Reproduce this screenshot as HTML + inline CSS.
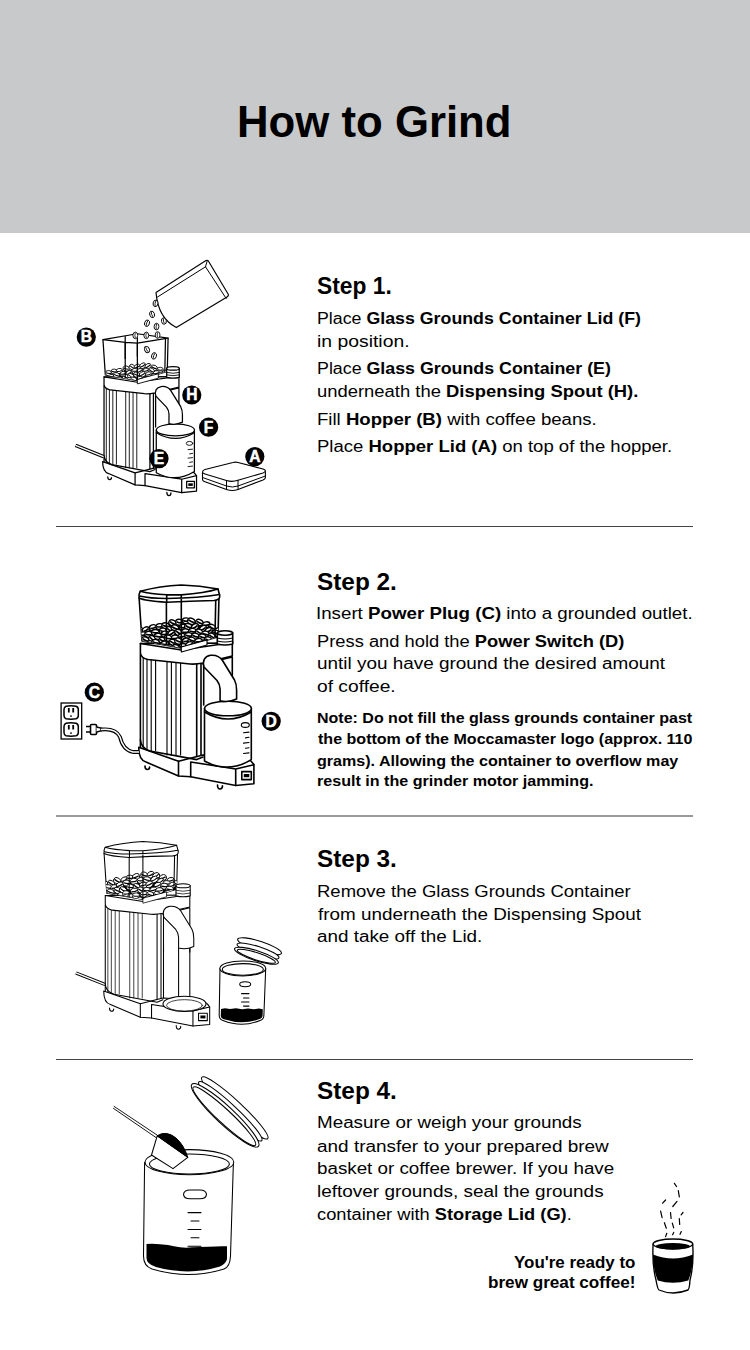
<!DOCTYPE html>
<html><head><meta charset="utf-8"><title>How to Grind</title>
<style>
html,body{margin:0;padding:0;background:#fff;}
body{width:750px;height:1350px;position:relative;overflow:hidden;font-family:"Liberation Sans",sans-serif;color:#000;}
.hdr{position:absolute;left:0;top:0;width:750px;height:233px;background:#c8c9cb;}
.t{position:absolute;white-space:nowrap;line-height:0;transform-origin:0 0;}
.t b{font-weight:bold;}
.rule{position:absolute;left:56px;width:637px;height:1px;background:#444;}
svg.art{position:absolute;left:0;top:0;}
</style></head><body>
<div class="hdr"></div>
<div class="rule" style="top:526px"></div>
<div class="rule" style="top:815px;height:2px;background:#9a9a9a"></div>
<div class="rule" style="top:1059px"></div>
<div class="t" style="left:236.66px;top:121.54px;font-size:44.6px;transform:scaleX(0.9807)"><b>How to Grind</b></div>
<div class="t" style="left:317.24px;top:286.35px;font-size:23.8px;transform:scaleX(0.9579)"><b>Step 1.</b></div>
<div class="t" style="left:317.18px;top:581.75px;font-size:23.8px;transform:scaleX(1.0237)"><b>Step 2.</b></div>
<div class="t" style="left:317.18px;top:859.15px;font-size:23.8px;transform:scaleX(1.0237)"><b>Step 3.</b></div>
<div class="t" style="left:317.18px;top:1091.35px;font-size:23.8px;transform:scaleX(1.0237)"><b>Step 4.</b></div>
<div class="t" style="left:317.37px;top:317.60px;font-size:17.3px;transform:scaleX(1.0288)">Place <b>Glass Grounds Container Lid (F)</b></div>
<div class="t" style="left:317.28px;top:341.00px;font-size:17.3px;transform:scaleX(1.1200)">in position.</div>
<div class="t" style="left:317.37px;top:368.40px;font-size:17.3px;transform:scaleX(1.0304)">Place <b>Glass Grounds Container (E)</b></div>
<div class="t" style="left:317.33px;top:390.60px;font-size:17.3px;transform:scaleX(1.0656)">underneath the <b>Dispensing Spout (H).</b></div>
<div class="t" style="left:317.32px;top:419.00px;font-size:17.3px;transform:scaleX(1.0760)">Fill <b>Hopper (B)</b> with coffee beans.</div>
<div class="t" style="left:317.33px;top:446.00px;font-size:17.3px;transform:scaleX(1.0717)">Place <b>Hopper Lid (A)</b> on top of the hopper.</div>
<div class="t" style="left:316.23px;top:613.00px;font-size:17.3px;transform:scaleX(1.0831)">Insert <b>Power Plug (C)</b> into a grounded outlet.</div>
<div class="t" style="left:317.34px;top:640.60px;font-size:17.3px;transform:scaleX(1.0597)">Press and hold the <b>Power Switch (D)</b></div>
<div class="t" style="left:317.31px;top:663.40px;font-size:17.3px;transform:scaleX(1.0946)">until you have ground the desired amount</div>
<div class="t" style="left:317.29px;top:686.00px;font-size:17.3px;transform:scaleX(1.1118)">of coffee.</div>
<div class="t" style="left:317.35px;top:717.93px;font-size:15.2px;transform:scaleX(1.0535)"><b>Note: Do not fill the glass grounds container past</b></div>
<div class="t" style="left:318.40px;top:739.13px;font-size:15.2px;transform:scaleX(1.0565)"><b>the bottom of the Moccamaster logo (approx. 110</b></div>
<div class="t" style="left:317.34px;top:760.53px;font-size:15.2px;transform:scaleX(1.0588)"><b>grams). Allowing the container to overflow may</b></div>
<div class="t" style="left:317.34px;top:780.53px;font-size:15.2px;transform:scaleX(1.0602)"><b>result in the grinder motor jamming.</b></div>
<div class="t" style="left:317.33px;top:891.00px;font-size:17.3px;transform:scaleX(1.0705)">Remove the Glass Grounds Container</div>
<div class="t" style="left:318.40px;top:913.60px;font-size:17.3px;transform:scaleX(1.0919)">from underneath the Dispensing Spout</div>
<div class="t" style="left:317.31px;top:936.40px;font-size:17.3px;transform:scaleX(1.0913)">and take off the Lid.</div>
<div class="t" style="left:317.31px;top:1122.40px;font-size:17.3px;transform:scaleX(1.0893)">Measure or weigh your grounds</div>
<div class="t" style="left:317.30px;top:1145.60px;font-size:17.3px;transform:scaleX(1.0966)">and transfer to your prepared brew</div>
<div class="t" style="left:317.31px;top:1168.40px;font-size:17.3px;transform:scaleX(1.0868)">basket or coffee brewer. If you have</div>
<div class="t" style="left:317.30px;top:1191.00px;font-size:17.3px;transform:scaleX(1.0969)">leftover grounds, seal the grounds</div>
<div class="t" style="left:317.34px;top:1214.00px;font-size:17.3px;transform:scaleX(1.0569)">container with <b>Storage Lid (G)</b>.</div>
<div class="t" style="left:513.57px;top:1261.61px;font-size:16.4px;transform:scaleX(1.0336)"><b>You&#x27;re ready to</b></div>
<div class="t" style="left:487.76px;top:1282.11px;font-size:16.4px;transform:scaleX(1.0446)"><b>brew great coffee!</b></div>
<svg class="art" width="750" height="1350" viewBox="0 0 750 1350"><g transform="translate(-10.4 -147.5) scale(0.815)"><path d="M203 664 L232.3 657 L232.3 705 M203.7 664 L203.7 705" fill="none" stroke="#000" stroke-width="1.53" stroke-linejoin="round" stroke-linecap="round"/><path d="M140.4 654 L140.4 749.2 M196.7 663 L196.7 759.6 M201 663 L201 758" fill="none" stroke="#000" stroke-width="1.53" stroke-linejoin="round" stroke-linecap="round"/><path d="M143.2 655 L143.2 750.5" fill="none" stroke="#000" stroke-width="1.07" stroke-linejoin="round" stroke-linecap="round"/><path d="M147.0 655 L147.0 750.5" fill="none" stroke="#000" stroke-width="1.07" stroke-linejoin="round" stroke-linecap="round"/><path d="M151.2 655 L151.2 750.5" fill="none" stroke="#000" stroke-width="1.07" stroke-linejoin="round" stroke-linecap="round"/><path d="M155.6 655 L155.6 750.5" fill="none" stroke="#000" stroke-width="1.07" stroke-linejoin="round" stroke-linecap="round"/><path d="M167.0 659 L167.0 755" fill="none" stroke="#000" stroke-width="1.07" stroke-linejoin="round" stroke-linecap="round"/><path d="M171.4 659 L171.4 755" fill="none" stroke="#000" stroke-width="1.07" stroke-linejoin="round" stroke-linecap="round"/><path d="M176.0 659 L176.0 755" fill="none" stroke="#000" stroke-width="1.07" stroke-linejoin="round" stroke-linecap="round"/><path d="M180.6 659 L180.6 755" fill="none" stroke="#000" stroke-width="1.07" stroke-linejoin="round" stroke-linecap="round"/><path d="M138.7 747.3 Q138.7 760 146 762 L178.5 776 L190.7 776.8 L235.7 785.5 L253.9 783.7 L253.9 764.7 Q250 758 240 757 L203 755 L178.5 761.2 Z" fill="#fff" fill="none" stroke="#000" stroke-width="1.53" stroke-linejoin="round" stroke-linecap="round"/><path d="M178.5 761.2 L178.5 776 M190.7 762 L190.7 776.8 M190.7 762 L235.7 769 L253.9 764.7 M235.7 769 L235.7 785.5" fill="none" stroke="#000" stroke-width="1.53" stroke-linejoin="round" stroke-linecap="round"/><path d="M140.4 740 Q141 748 150 751 L196.7 759.6 L203 757" fill="none" stroke="#000" stroke-width="1.53" stroke-linejoin="round" stroke-linecap="round"/><rect x="241.8" y="771.6" width="9.5" height="8" fill="#fff" fill="none" stroke="#000" stroke-width="1.53" stroke-linejoin="round" stroke-linecap="round"/><rect x="243.8" y="774" width="5.5" height="3.2" fill="#000"/><path d="M145 766 Q145 769.5 147.3 769.5 Q149.6 769.5 149.6 767 M217.5 785 Q217.5 789 220 789 Q222.5 789 222.5 785.8" fill="#fff" fill="none" stroke="#000" stroke-width="1.53" stroke-linejoin="round" stroke-linecap="round"/><path d="M204.5 708.5 L204.5 761 Q228 774 251.3 759.6 L251.3 708.5" fill="#fff" fill="none" stroke="#000" stroke-width="1.53" stroke-linejoin="round" stroke-linecap="round"/><ellipse cx="228" cy="708.5" rx="23.4" ry="7.3" fill="#fff" fill="none" stroke="#000" stroke-width="1.53" stroke-linejoin="round" stroke-linecap="round"/><path d="M204.5 712 Q228 726 251.3 712" fill="none" stroke="#000" stroke-width="1.53" stroke-linejoin="round" stroke-linecap="round"/><ellipse cx="245.3" cy="725" rx="4" ry="2.4" fill="none" fill="none" stroke="#000" stroke-width="1.07" stroke-linejoin="round" stroke-linecap="round"/><path d="M243.5 732.7 L249 732.1" fill="none" stroke="#000" stroke-width="1.07" stroke-linejoin="round" stroke-linecap="round"/><path d="M245.5 737.9 L249 737.3" fill="none" stroke="#000" stroke-width="1.07" stroke-linejoin="round" stroke-linecap="round"/><path d="M243.5 743.1 L249 742.5" fill="none" stroke="#000" stroke-width="1.07" stroke-linejoin="round" stroke-linecap="round"/><path d="M245.5 748.3 L249 747.7" fill="none" stroke="#000" stroke-width="1.07" stroke-linejoin="round" stroke-linecap="round"/><path d="M243.5 753.5 L249 752.9" fill="none" stroke="#000" stroke-width="1.07" stroke-linejoin="round" stroke-linecap="round"/><path d="M140.4 643.5 L140.4 653 Q141 658 148 659.5 L190 664 Q196 664.5 203 663 L232.3 656 L232.3 643 Z" fill="#fff" fill="none" stroke="#000" stroke-width="1.53" stroke-linejoin="round" stroke-linecap="round"/><path d="M140.4 643.5 L181.3 650 L232.7 642.5" fill="none" stroke="#000" stroke-width="1.53" stroke-linejoin="round" stroke-linecap="round"/><path d="M204 667 Q201.5 657 210.5 655.3 Q218.5 654.5 222.5 660.5 L234.5 680 Q236.6 684 236.6 690 L236.6 699 Q228 703 220.1 700.7 L220.1 689 Q220.1 684.5 217 680.5 Z" fill="#fff" fill="none" stroke="#000" stroke-width="1.53" stroke-linejoin="round" stroke-linecap="round"/><clipPath id="hc11"><path d="M139.1 597.8 L142 641 L181.3 648 L218 636.7 L219 596 Z"/></clipPath><path d="M139.1 597.8 L142 641 L181.3 648 L218 636.7 L219 596" fill="#fff" fill="none" stroke="#000" stroke-width="1.53" stroke-linejoin="round" stroke-linecap="round"/><g clip-path="url(#hc11)"><path d="M141.0 642.0 L142.9 641.8 L144.9 641.6 L146.8 641.2 L148.8 640.9 L150.8 640.5 L152.7 640.0 L154.7 639.6 L156.6 639.1 L158.6 638.6 L160.5 638.1 L162.4 637.6 L164.4 637.1 L166.3 636.5 L168.3 636.0 L170.2 635.6 L172.2 635.1 L174.2 634.7 L176.1 634.3 L178.1 633.9 L180.0 633.6 L181.9 633.4 L183.9 633.2 L185.8 633.1 L187.8 633.0 L189.8 633.0 L191.7 633.1 L193.7 633.3 L195.6 633.5 L197.6 633.8 L199.5 634.2 L201.4 634.7 L203.4 635.3 L205.3 635.9 L207.3 636.6 L209.2 637.4 L211.2 638.2 L213.2 639.1 L215.1 640.1 L217.1 641.0 L219.0 642.0 L219.0 652.0 L141.0 652.0 Z" fill="#000"/><g transform="translate(139.1 639.4) rotate(30)"><ellipse rx="4.0" ry="3.2" fill="#fff" stroke="#000" stroke-width="1.00"/><path d="M-3.2 0 Q0 0.8 3.2 0" fill="none" stroke="#000" stroke-width="1.30"/></g><g transform="translate(146.0 638.8) rotate(6)"><ellipse rx="4.0" ry="3.2" fill="#fff" stroke="#000" stroke-width="1.00"/><path d="M-3.2 0 Q0 0.8 3.2 0" fill="none" stroke="#000" stroke-width="1.30"/></g><g transform="translate(153.0 637.0) rotate(9)"><ellipse rx="4.0" ry="3.2" fill="#fff" stroke="#000" stroke-width="1.00"/><path d="M-3.2 0 Q0 0.8 3.2 0" fill="none" stroke="#000" stroke-width="1.30"/></g><g transform="translate(159.2 636.2) rotate(-14)"><ellipse rx="4.0" ry="3.2" fill="#fff" stroke="#000" stroke-width="1.00"/><path d="M-3.2 0 Q0 0.8 3.2 0" fill="none" stroke="#000" stroke-width="1.30"/></g><g transform="translate(167.6 633.2) rotate(14)"><ellipse rx="4.0" ry="3.2" fill="#fff" stroke="#000" stroke-width="1.00"/><path d="M-3.2 0 Q0 0.8 3.2 0" fill="none" stroke="#000" stroke-width="1.30"/></g><g transform="translate(175.0 631.5) rotate(33)"><ellipse rx="4.0" ry="3.2" fill="#fff" stroke="#000" stroke-width="1.00"/><path d="M-3.2 0 Q0 0.8 3.2 0" fill="none" stroke="#000" stroke-width="1.30"/></g><g transform="translate(181.2 631.3) rotate(-24)"><ellipse rx="4.0" ry="3.2" fill="#fff" stroke="#000" stroke-width="1.00"/><path d="M-3.2 0 Q0 0.8 3.2 0" fill="none" stroke="#000" stroke-width="1.30"/></g><g transform="translate(188.1 629.7) rotate(-31)"><ellipse rx="4.0" ry="3.2" fill="#fff" stroke="#000" stroke-width="1.00"/><path d="M-3.2 0 Q0 0.8 3.2 0" fill="none" stroke="#000" stroke-width="1.30"/></g><g transform="translate(194.5 630.4) rotate(-33)"><ellipse rx="4.0" ry="3.2" fill="#fff" stroke="#000" stroke-width="1.00"/><path d="M-3.2 0 Q0 0.8 3.2 0" fill="none" stroke="#000" stroke-width="1.30"/></g><g transform="translate(201.9 632.3) rotate(24)"><ellipse rx="4.0" ry="3.2" fill="#fff" stroke="#000" stroke-width="1.00"/><path d="M-3.2 0 Q0 0.8 3.2 0" fill="none" stroke="#000" stroke-width="1.30"/></g><g transform="translate(209.3 634.8) rotate(-0)"><ellipse rx="4.0" ry="3.2" fill="#fff" stroke="#000" stroke-width="1.00"/><path d="M-3.2 0 Q0 0.8 3.2 0" fill="none" stroke="#000" stroke-width="1.30"/></g><g transform="translate(215.9 638.3) rotate(-16)"><ellipse rx="4.0" ry="3.2" fill="#fff" stroke="#000" stroke-width="1.00"/><path d="M-3.2 0 Q0 0.8 3.2 0" fill="none" stroke="#000" stroke-width="1.30"/></g><g transform="translate(143.5 645.3) rotate(24)"><ellipse rx="4.0" ry="3.2" fill="#fff" stroke="#000" stroke-width="1.00"/><path d="M-3.2 0 Q0 0.8 3.2 0" fill="none" stroke="#000" stroke-width="1.30"/></g><g transform="translate(149.1 643.6) rotate(-19)"><ellipse rx="4.0" ry="3.2" fill="#fff" stroke="#000" stroke-width="1.00"/><path d="M-3.2 0 Q0 0.8 3.2 0" fill="none" stroke="#000" stroke-width="1.30"/></g><g transform="translate(155.6 641.4) rotate(19)"><ellipse rx="4.0" ry="3.2" fill="#fff" stroke="#000" stroke-width="1.00"/><path d="M-3.2 0 Q0 0.8 3.2 0" fill="none" stroke="#000" stroke-width="1.30"/></g><g transform="translate(164.2 639.7) rotate(-8)"><ellipse rx="4.0" ry="3.2" fill="#fff" stroke="#000" stroke-width="1.00"/><path d="M-3.2 0 Q0 0.8 3.2 0" fill="none" stroke="#000" stroke-width="1.30"/></g><g transform="translate(171.2 638.8) rotate(-35)"><ellipse rx="4.0" ry="3.2" fill="#fff" stroke="#000" stroke-width="1.00"/><path d="M-3.2 0 Q0 0.8 3.2 0" fill="none" stroke="#000" stroke-width="1.30"/></g><g transform="translate(178.3 636.2) rotate(-2)"><ellipse rx="4.0" ry="3.2" fill="#fff" stroke="#000" stroke-width="1.00"/><path d="M-3.2 0 Q0 0.8 3.2 0" fill="none" stroke="#000" stroke-width="1.30"/></g><g transform="translate(184.3 636.5) rotate(-30)"><ellipse rx="4.0" ry="3.2" fill="#fff" stroke="#000" stroke-width="1.00"/><path d="M-3.2 0 Q0 0.8 3.2 0" fill="none" stroke="#000" stroke-width="1.30"/></g><g transform="translate(192.1 635.9) rotate(-16)"><ellipse rx="4.0" ry="3.2" fill="#fff" stroke="#000" stroke-width="1.00"/><path d="M-3.2 0 Q0 0.8 3.2 0" fill="none" stroke="#000" stroke-width="1.30"/></g><g transform="translate(198.2 635.9) rotate(32)"><ellipse rx="4.0" ry="3.2" fill="#fff" stroke="#000" stroke-width="1.00"/><path d="M-3.2 0 Q0 0.8 3.2 0" fill="none" stroke="#000" stroke-width="1.30"/></g><g transform="translate(204.7 639.0) rotate(-18)"><ellipse rx="4.0" ry="3.2" fill="#fff" stroke="#000" stroke-width="1.00"/><path d="M-3.2 0 Q0 0.8 3.2 0" fill="none" stroke="#000" stroke-width="1.30"/></g><g transform="translate(211.6 640.8) rotate(21)"><ellipse rx="4.0" ry="3.2" fill="#fff" stroke="#000" stroke-width="1.00"/><path d="M-3.2 0 Q0 0.8 3.2 0" fill="none" stroke="#000" stroke-width="1.30"/></g><g transform="translate(219.6 644.1) rotate(-4)"><ellipse rx="4.0" ry="3.2" fill="#fff" stroke="#000" stroke-width="1.00"/><path d="M-3.2 0 Q0 0.8 3.2 0" fill="none" stroke="#000" stroke-width="1.30"/></g><g transform="translate(139.5 649.2) rotate(-26)"><ellipse rx="4.0" ry="3.2" fill="#fff" stroke="#000" stroke-width="1.00"/><path d="M-3.2 0 Q0 0.8 3.2 0" fill="none" stroke="#000" stroke-width="1.30"/></g><g transform="translate(145.2 649.3) rotate(-6)"><ellipse rx="4.0" ry="3.2" fill="#fff" stroke="#000" stroke-width="1.00"/><path d="M-3.2 0 Q0 0.8 3.2 0" fill="none" stroke="#000" stroke-width="1.30"/></g><g transform="translate(152.5 647.2) rotate(33)"><ellipse rx="4.0" ry="3.2" fill="#fff" stroke="#000" stroke-width="1.00"/><path d="M-3.2 0 Q0 0.8 3.2 0" fill="none" stroke="#000" stroke-width="1.30"/></g><g transform="translate(159.6 646.4) rotate(27)"><ellipse rx="4.0" ry="3.2" fill="#fff" stroke="#000" stroke-width="1.00"/><path d="M-3.2 0 Q0 0.8 3.2 0" fill="none" stroke="#000" stroke-width="1.30"/></g><g transform="translate(166.8 643.6) rotate(25)"><ellipse rx="4.0" ry="3.2" fill="#fff" stroke="#000" stroke-width="1.00"/><path d="M-3.2 0 Q0 0.8 3.2 0" fill="none" stroke="#000" stroke-width="1.30"/></g><g transform="translate(173.2 642.6) rotate(34)"><ellipse rx="4.0" ry="3.2" fill="#fff" stroke="#000" stroke-width="1.00"/><path d="M-3.2 0 Q0 0.8 3.2 0" fill="none" stroke="#000" stroke-width="1.30"/></g><g transform="translate(180.5 640.7) rotate(19)"><ellipse rx="4.0" ry="3.2" fill="#fff" stroke="#000" stroke-width="1.00"/><path d="M-3.2 0 Q0 0.8 3.2 0" fill="none" stroke="#000" stroke-width="1.30"/></g><g transform="translate(187.6 640.4) rotate(-30)"><ellipse rx="4.0" ry="3.2" fill="#fff" stroke="#000" stroke-width="1.00"/><path d="M-3.2 0 Q0 0.8 3.2 0" fill="none" stroke="#000" stroke-width="1.30"/></g><g transform="translate(195.2 640.4) rotate(-18)"><ellipse rx="4.0" ry="3.2" fill="#fff" stroke="#000" stroke-width="1.00"/><path d="M-3.2 0 Q0 0.8 3.2 0" fill="none" stroke="#000" stroke-width="1.30"/></g><g transform="translate(201.7 642.7) rotate(-3)"><ellipse rx="4.0" ry="3.2" fill="#fff" stroke="#000" stroke-width="1.00"/><path d="M-3.2 0 Q0 0.8 3.2 0" fill="none" stroke="#000" stroke-width="1.30"/></g><g transform="translate(209.0 645.7) rotate(5)"><ellipse rx="4.0" ry="3.2" fill="#fff" stroke="#000" stroke-width="1.00"/><path d="M-3.2 0 Q0 0.8 3.2 0" fill="none" stroke="#000" stroke-width="1.30"/></g><g transform="translate(215.4 648.7) rotate(-24)"><ellipse rx="4.0" ry="3.2" fill="#fff" stroke="#000" stroke-width="1.00"/><path d="M-3.2 0 Q0 0.8 3.2 0" fill="none" stroke="#000" stroke-width="1.30"/></g><g transform="translate(143.1 655.3) rotate(-18)"><ellipse rx="4.0" ry="3.2" fill="#fff" stroke="#000" stroke-width="1.00"/><path d="M-3.2 0 Q0 0.8 3.2 0" fill="none" stroke="#000" stroke-width="1.30"/></g><g transform="translate(150.0 653.0) rotate(31)"><ellipse rx="4.0" ry="3.2" fill="#fff" stroke="#000" stroke-width="1.00"/><path d="M-3.2 0 Q0 0.8 3.2 0" fill="none" stroke="#000" stroke-width="1.30"/></g><g transform="translate(157.4 651.4) rotate(27)"><ellipse rx="4.0" ry="3.2" fill="#fff" stroke="#000" stroke-width="1.00"/><path d="M-3.2 0 Q0 0.8 3.2 0" fill="none" stroke="#000" stroke-width="1.30"/></g><g transform="translate(163.3 650.2) rotate(-28)"><ellipse rx="4.0" ry="3.2" fill="#fff" stroke="#000" stroke-width="1.00"/><path d="M-3.2 0 Q0 0.8 3.2 0" fill="none" stroke="#000" stroke-width="1.30"/></g><g transform="translate(171.4 647.5) rotate(-18)"><ellipse rx="4.0" ry="3.2" fill="#fff" stroke="#000" stroke-width="1.00"/><path d="M-3.2 0 Q0 0.8 3.2 0" fill="none" stroke="#000" stroke-width="1.30"/></g><g transform="translate(177.0 647.1) rotate(23)"><ellipse rx="4.0" ry="3.2" fill="#fff" stroke="#000" stroke-width="1.00"/><path d="M-3.2 0 Q0 0.8 3.2 0" fill="none" stroke="#000" stroke-width="1.30"/></g><g transform="translate(184.1 646.0) rotate(-23)"><ellipse rx="4.0" ry="3.2" fill="#fff" stroke="#000" stroke-width="1.00"/><path d="M-3.2 0 Q0 0.8 3.2 0" fill="none" stroke="#000" stroke-width="1.30"/></g><g transform="translate(190.6 646.2) rotate(-19)"><ellipse rx="4.0" ry="3.2" fill="#fff" stroke="#000" stroke-width="1.00"/><path d="M-3.2 0 Q0 0.8 3.2 0" fill="none" stroke="#000" stroke-width="1.30"/></g><g transform="translate(199.2 646.8) rotate(8)"><ellipse rx="4.0" ry="3.2" fill="#fff" stroke="#000" stroke-width="1.00"/><path d="M-3.2 0 Q0 0.8 3.2 0" fill="none" stroke="#000" stroke-width="1.30"/></g><g transform="translate(206.3 648.4) rotate(-21)"><ellipse rx="4.0" ry="3.2" fill="#fff" stroke="#000" stroke-width="1.00"/><path d="M-3.2 0 Q0 0.8 3.2 0" fill="none" stroke="#000" stroke-width="1.30"/></g><g transform="translate(212.0 650.8) rotate(-4)"><ellipse rx="4.0" ry="3.2" fill="#fff" stroke="#000" stroke-width="1.00"/><path d="M-3.2 0 Q0 0.8 3.2 0" fill="none" stroke="#000" stroke-width="1.30"/></g><g transform="translate(218.9 654.0) rotate(-9)"><ellipse rx="4.0" ry="3.2" fill="#fff" stroke="#000" stroke-width="1.00"/><path d="M-3.2 0 Q0 0.8 3.2 0" fill="none" stroke="#000" stroke-width="1.30"/></g><g transform="translate(138.3 659.9) rotate(-10)"><ellipse rx="4.0" ry="3.2" fill="#fff" stroke="#000" stroke-width="1.00"/><path d="M-3.2 0 Q0 0.8 3.2 0" fill="none" stroke="#000" stroke-width="1.30"/></g><g transform="translate(147.0 659.8) rotate(11)"><ellipse rx="4.0" ry="3.2" fill="#fff" stroke="#000" stroke-width="1.00"/><path d="M-3.2 0 Q0 0.8 3.2 0" fill="none" stroke="#000" stroke-width="1.30"/></g><g transform="translate(153.2 658.1) rotate(-25)"><ellipse rx="4.0" ry="3.2" fill="#fff" stroke="#000" stroke-width="1.00"/><path d="M-3.2 0 Q0 0.8 3.2 0" fill="none" stroke="#000" stroke-width="1.30"/></g><g transform="translate(159.0 655.3) rotate(29)"><ellipse rx="4.0" ry="3.2" fill="#fff" stroke="#000" stroke-width="1.00"/><path d="M-3.2 0 Q0 0.8 3.2 0" fill="none" stroke="#000" stroke-width="1.30"/></g><g transform="translate(167.9 654.5) rotate(-34)"><ellipse rx="4.0" ry="3.2" fill="#fff" stroke="#000" stroke-width="1.00"/><path d="M-3.2 0 Q0 0.8 3.2 0" fill="none" stroke="#000" stroke-width="1.30"/></g><g transform="translate(174.0 652.8) rotate(16)"><ellipse rx="4.0" ry="3.2" fill="#fff" stroke="#000" stroke-width="1.00"/><path d="M-3.2 0 Q0 0.8 3.2 0" fill="none" stroke="#000" stroke-width="1.30"/></g><g transform="translate(182.0 651.0) rotate(-30)"><ellipse rx="4.0" ry="3.2" fill="#fff" stroke="#000" stroke-width="1.00"/><path d="M-3.2 0 Q0 0.8 3.2 0" fill="none" stroke="#000" stroke-width="1.30"/></g><g transform="translate(188.5 650.9) rotate(28)"><ellipse rx="4.0" ry="3.2" fill="#fff" stroke="#000" stroke-width="1.00"/><path d="M-3.2 0 Q0 0.8 3.2 0" fill="none" stroke="#000" stroke-width="1.30"/></g><g transform="translate(195.4 651.6) rotate(21)"><ellipse rx="4.0" ry="3.2" fill="#fff" stroke="#000" stroke-width="1.00"/><path d="M-3.2 0 Q0 0.8 3.2 0" fill="none" stroke="#000" stroke-width="1.30"/></g><g transform="translate(201.7 653.4) rotate(13)"><ellipse rx="4.0" ry="3.2" fill="#fff" stroke="#000" stroke-width="1.00"/><path d="M-3.2 0 Q0 0.8 3.2 0" fill="none" stroke="#000" stroke-width="1.30"/></g><g transform="translate(209.7 655.8) rotate(-6)"><ellipse rx="4.0" ry="3.2" fill="#fff" stroke="#000" stroke-width="1.00"/><path d="M-3.2 0 Q0 0.8 3.2 0" fill="none" stroke="#000" stroke-width="1.30"/></g><g transform="translate(216.7 658.8) rotate(5)"><ellipse rx="4.0" ry="3.2" fill="#fff" stroke="#000" stroke-width="1.00"/><path d="M-3.2 0 Q0 0.8 3.2 0" fill="none" stroke="#000" stroke-width="1.30"/></g><g transform="translate(142.3 665.0) rotate(6)"><ellipse rx="4.0" ry="3.2" fill="#fff" stroke="#000" stroke-width="1.00"/><path d="M-3.2 0 Q0 0.8 3.2 0" fill="none" stroke="#000" stroke-width="1.30"/></g><g transform="translate(148.7 663.8) rotate(10)"><ellipse rx="4.0" ry="3.2" fill="#fff" stroke="#000" stroke-width="1.00"/><path d="M-3.2 0 Q0 0.8 3.2 0" fill="none" stroke="#000" stroke-width="1.30"/></g><g transform="translate(157.3 662.8) rotate(16)"><ellipse rx="4.0" ry="3.2" fill="#fff" stroke="#000" stroke-width="1.00"/><path d="M-3.2 0 Q0 0.8 3.2 0" fill="none" stroke="#000" stroke-width="1.30"/></g><g transform="translate(164.0 660.0) rotate(6)"><ellipse rx="4.0" ry="3.2" fill="#fff" stroke="#000" stroke-width="1.00"/><path d="M-3.2 0 Q0 0.8 3.2 0" fill="none" stroke="#000" stroke-width="1.30"/></g><g transform="translate(171.2 658.3) rotate(-29)"><ellipse rx="4.0" ry="3.2" fill="#fff" stroke="#000" stroke-width="1.00"/><path d="M-3.2 0 Q0 0.8 3.2 0" fill="none" stroke="#000" stroke-width="1.30"/></g><g transform="translate(176.6 657.3) rotate(7)"><ellipse rx="4.0" ry="3.2" fill="#fff" stroke="#000" stroke-width="1.00"/><path d="M-3.2 0 Q0 0.8 3.2 0" fill="none" stroke="#000" stroke-width="1.30"/></g><g transform="translate(184.0 656.0) rotate(14)"><ellipse rx="4.0" ry="3.2" fill="#fff" stroke="#000" stroke-width="1.00"/><path d="M-3.2 0 Q0 0.8 3.2 0" fill="none" stroke="#000" stroke-width="1.30"/></g><g transform="translate(191.7 656.0) rotate(29)"><ellipse rx="4.0" ry="3.2" fill="#fff" stroke="#000" stroke-width="1.00"/><path d="M-3.2 0 Q0 0.8 3.2 0" fill="none" stroke="#000" stroke-width="1.30"/></g><g transform="translate(197.5 656.5) rotate(-14)"><ellipse rx="4.0" ry="3.2" fill="#fff" stroke="#000" stroke-width="1.00"/><path d="M-3.2 0 Q0 0.8 3.2 0" fill="none" stroke="#000" stroke-width="1.30"/></g><g transform="translate(204.9 659.2) rotate(-23)"><ellipse rx="4.0" ry="3.2" fill="#fff" stroke="#000" stroke-width="1.00"/><path d="M-3.2 0 Q0 0.8 3.2 0" fill="none" stroke="#000" stroke-width="1.30"/></g><g transform="translate(212.8 662.4) rotate(-4)"><ellipse rx="4.0" ry="3.2" fill="#fff" stroke="#000" stroke-width="1.00"/><path d="M-3.2 0 Q0 0.8 3.2 0" fill="none" stroke="#000" stroke-width="1.30"/></g><g transform="translate(219.2 665.5) rotate(12)"><ellipse rx="4.0" ry="3.2" fill="#fff" stroke="#000" stroke-width="1.00"/><path d="M-3.2 0 Q0 0.8 3.2 0" fill="none" stroke="#000" stroke-width="1.30"/></g><g transform="translate(138.9 669.5) rotate(21)"><ellipse rx="4.0" ry="3.2" fill="#fff" stroke="#000" stroke-width="1.00"/><path d="M-3.2 0 Q0 0.8 3.2 0" fill="none" stroke="#000" stroke-width="1.30"/></g><g transform="translate(146.8 670.0) rotate(-8)"><ellipse rx="4.0" ry="3.2" fill="#fff" stroke="#000" stroke-width="1.00"/><path d="M-3.2 0 Q0 0.8 3.2 0" fill="none" stroke="#000" stroke-width="1.30"/></g><g transform="translate(152.6 668.1) rotate(-25)"><ellipse rx="4.0" ry="3.2" fill="#fff" stroke="#000" stroke-width="1.00"/><path d="M-3.2 0 Q0 0.8 3.2 0" fill="none" stroke="#000" stroke-width="1.30"/></g><g transform="translate(160.7 666.2) rotate(24)"><ellipse rx="4.0" ry="3.2" fill="#fff" stroke="#000" stroke-width="1.00"/><path d="M-3.2 0 Q0 0.8 3.2 0" fill="none" stroke="#000" stroke-width="1.30"/></g><g transform="translate(167.9 664.7) rotate(-16)"><ellipse rx="4.0" ry="3.2" fill="#fff" stroke="#000" stroke-width="1.00"/><path d="M-3.2 0 Q0 0.8 3.2 0" fill="none" stroke="#000" stroke-width="1.30"/></g><g transform="translate(173.9 662.2) rotate(-16)"><ellipse rx="4.0" ry="3.2" fill="#fff" stroke="#000" stroke-width="1.00"/><path d="M-3.2 0 Q0 0.8 3.2 0" fill="none" stroke="#000" stroke-width="1.30"/></g><g transform="translate(180.8 661.0) rotate(9)"><ellipse rx="4.0" ry="3.2" fill="#fff" stroke="#000" stroke-width="1.00"/><path d="M-3.2 0 Q0 0.8 3.2 0" fill="none" stroke="#000" stroke-width="1.30"/></g><g transform="translate(187.6 661.0) rotate(24)"><ellipse rx="4.0" ry="3.2" fill="#fff" stroke="#000" stroke-width="1.00"/><path d="M-3.2 0 Q0 0.8 3.2 0" fill="none" stroke="#000" stroke-width="1.30"/></g><g transform="translate(194.9 662.2) rotate(-30)"><ellipse rx="4.0" ry="3.2" fill="#fff" stroke="#000" stroke-width="1.00"/><path d="M-3.2 0 Q0 0.8 3.2 0" fill="none" stroke="#000" stroke-width="1.30"/></g><g transform="translate(202.7 662.1) rotate(-32)"><ellipse rx="4.0" ry="3.2" fill="#fff" stroke="#000" stroke-width="1.00"/><path d="M-3.2 0 Q0 0.8 3.2 0" fill="none" stroke="#000" stroke-width="1.30"/></g><g transform="translate(209.1 665.6) rotate(-13)"><ellipse rx="4.0" ry="3.2" fill="#fff" stroke="#000" stroke-width="1.00"/><path d="M-3.2 0 Q0 0.8 3.2 0" fill="none" stroke="#000" stroke-width="1.30"/></g><g transform="translate(215.0 668.9) rotate(-25)"><ellipse rx="4.0" ry="3.2" fill="#fff" stroke="#000" stroke-width="1.00"/><path d="M-3.2 0 Q0 0.8 3.2 0" fill="none" stroke="#000" stroke-width="1.30"/></g><g transform="translate(141.5 674.9) rotate(23)"><ellipse rx="4.0" ry="3.2" fill="#fff" stroke="#000" stroke-width="1.00"/><path d="M-3.2 0 Q0 0.8 3.2 0" fill="none" stroke="#000" stroke-width="1.30"/></g><g transform="translate(148.8 673.4) rotate(-32)"><ellipse rx="4.0" ry="3.2" fill="#fff" stroke="#000" stroke-width="1.00"/><path d="M-3.2 0 Q0 0.8 3.2 0" fill="none" stroke="#000" stroke-width="1.30"/></g><g transform="translate(156.4 672.4) rotate(9)"><ellipse rx="4.0" ry="3.2" fill="#fff" stroke="#000" stroke-width="1.00"/><path d="M-3.2 0 Q0 0.8 3.2 0" fill="none" stroke="#000" stroke-width="1.30"/></g><g transform="translate(164.1 670.6) rotate(32)"><ellipse rx="4.0" ry="3.2" fill="#fff" stroke="#000" stroke-width="1.00"/><path d="M-3.2 0 Q0 0.8 3.2 0" fill="none" stroke="#000" stroke-width="1.30"/></g><g transform="translate(169.9 668.9) rotate(-2)"><ellipse rx="4.0" ry="3.2" fill="#fff" stroke="#000" stroke-width="1.00"/><path d="M-3.2 0 Q0 0.8 3.2 0" fill="none" stroke="#000" stroke-width="1.30"/></g><g transform="translate(176.5 666.6) rotate(-2)"><ellipse rx="4.0" ry="3.2" fill="#fff" stroke="#000" stroke-width="1.00"/><path d="M-3.2 0 Q0 0.8 3.2 0" fill="none" stroke="#000" stroke-width="1.30"/></g><g transform="translate(183.9 666.6) rotate(-16)"><ellipse rx="4.0" ry="3.2" fill="#fff" stroke="#000" stroke-width="1.00"/><path d="M-3.2 0 Q0 0.8 3.2 0" fill="none" stroke="#000" stroke-width="1.30"/></g><g transform="translate(191.9 665.9) rotate(1)"><ellipse rx="4.0" ry="3.2" fill="#fff" stroke="#000" stroke-width="1.00"/><path d="M-3.2 0 Q0 0.8 3.2 0" fill="none" stroke="#000" stroke-width="1.30"/></g><g transform="translate(199.0 667.3) rotate(-7)"><ellipse rx="4.0" ry="3.2" fill="#fff" stroke="#000" stroke-width="1.00"/><path d="M-3.2 0 Q0 0.8 3.2 0" fill="none" stroke="#000" stroke-width="1.30"/></g><g transform="translate(206.3 669.5) rotate(-29)"><ellipse rx="4.0" ry="3.2" fill="#fff" stroke="#000" stroke-width="1.00"/><path d="M-3.2 0 Q0 0.8 3.2 0" fill="none" stroke="#000" stroke-width="1.30"/></g><g transform="translate(212.9 672.6) rotate(-26)"><ellipse rx="4.0" ry="3.2" fill="#fff" stroke="#000" stroke-width="1.00"/><path d="M-3.2 0 Q0 0.8 3.2 0" fill="none" stroke="#000" stroke-width="1.30"/></g><g transform="translate(219.8 675.0) rotate(29)"><ellipse rx="4.0" ry="3.2" fill="#fff" stroke="#000" stroke-width="1.00"/><path d="M-3.2 0 Q0 0.8 3.2 0" fill="none" stroke="#000" stroke-width="1.30"/></g><g transform="translate(139.1 679.9) rotate(27)"><ellipse rx="4.0" ry="3.2" fill="#fff" stroke="#000" stroke-width="1.00"/><path d="M-3.2 0 Q0 0.8 3.2 0" fill="none" stroke="#000" stroke-width="1.30"/></g><g transform="translate(146.9 680.0) rotate(-3)"><ellipse rx="4.0" ry="3.2" fill="#fff" stroke="#000" stroke-width="1.00"/><path d="M-3.2 0 Q0 0.8 3.2 0" fill="none" stroke="#000" stroke-width="1.30"/></g><g transform="translate(152.4 678.3) rotate(16)"><ellipse rx="4.0" ry="3.2" fill="#fff" stroke="#000" stroke-width="1.00"/><path d="M-3.2 0 Q0 0.8 3.2 0" fill="none" stroke="#000" stroke-width="1.30"/></g><g transform="translate(160.3 676.9) rotate(15)"><ellipse rx="4.0" ry="3.2" fill="#fff" stroke="#000" stroke-width="1.00"/><path d="M-3.2 0 Q0 0.8 3.2 0" fill="none" stroke="#000" stroke-width="1.30"/></g><g transform="translate(167.8 674.1) rotate(34)"><ellipse rx="4.0" ry="3.2" fill="#fff" stroke="#000" stroke-width="1.00"/><path d="M-3.2 0 Q0 0.8 3.2 0" fill="none" stroke="#000" stroke-width="1.30"/></g><g transform="translate(174.1 673.6) rotate(20)"><ellipse rx="4.0" ry="3.2" fill="#fff" stroke="#000" stroke-width="1.00"/><path d="M-3.2 0 Q0 0.8 3.2 0" fill="none" stroke="#000" stroke-width="1.30"/></g><g transform="translate(181.8 671.4) rotate(25)"><ellipse rx="4.0" ry="3.2" fill="#fff" stroke="#000" stroke-width="1.00"/><path d="M-3.2 0 Q0 0.8 3.2 0" fill="none" stroke="#000" stroke-width="1.30"/></g><g transform="translate(187.2 670.9) rotate(-4)"><ellipse rx="4.0" ry="3.2" fill="#fff" stroke="#000" stroke-width="1.00"/><path d="M-3.2 0 Q0 0.8 3.2 0" fill="none" stroke="#000" stroke-width="1.30"/></g><g transform="translate(195.5 671.6) rotate(-1)"><ellipse rx="4.0" ry="3.2" fill="#fff" stroke="#000" stroke-width="1.00"/><path d="M-3.2 0 Q0 0.8 3.2 0" fill="none" stroke="#000" stroke-width="1.30"/></g><g transform="translate(202.6 672.3) rotate(-31)"><ellipse rx="4.0" ry="3.2" fill="#fff" stroke="#000" stroke-width="1.00"/><path d="M-3.2 0 Q0 0.8 3.2 0" fill="none" stroke="#000" stroke-width="1.30"/></g><g transform="translate(208.3 675.9) rotate(-12)"><ellipse rx="4.0" ry="3.2" fill="#fff" stroke="#000" stroke-width="1.00"/><path d="M-3.2 0 Q0 0.8 3.2 0" fill="none" stroke="#000" stroke-width="1.30"/></g><g transform="translate(215.3 679.1) rotate(-25)"><ellipse rx="4.0" ry="3.2" fill="#fff" stroke="#000" stroke-width="1.00"/><path d="M-3.2 0 Q0 0.8 3.2 0" fill="none" stroke="#000" stroke-width="1.30"/></g><g transform="translate(142.9 685.1) rotate(24)"><ellipse rx="4.0" ry="3.2" fill="#fff" stroke="#000" stroke-width="1.00"/><path d="M-3.2 0 Q0 0.8 3.2 0" fill="none" stroke="#000" stroke-width="1.30"/></g><g transform="translate(150.4 684.3) rotate(-1)"><ellipse rx="4.0" ry="3.2" fill="#fff" stroke="#000" stroke-width="1.00"/><path d="M-3.2 0 Q0 0.8 3.2 0" fill="none" stroke="#000" stroke-width="1.30"/></g><g transform="translate(155.7 683.0) rotate(-20)"><ellipse rx="4.0" ry="3.2" fill="#fff" stroke="#000" stroke-width="1.00"/><path d="M-3.2 0 Q0 0.8 3.2 0" fill="none" stroke="#000" stroke-width="1.30"/></g><g transform="translate(163.1 680.5) rotate(16)"><ellipse rx="4.0" ry="3.2" fill="#fff" stroke="#000" stroke-width="1.00"/><path d="M-3.2 0 Q0 0.8 3.2 0" fill="none" stroke="#000" stroke-width="1.30"/></g><g transform="translate(170.5 679.0) rotate(24)"><ellipse rx="4.0" ry="3.2" fill="#fff" stroke="#000" stroke-width="1.00"/><path d="M-3.2 0 Q0 0.8 3.2 0" fill="none" stroke="#000" stroke-width="1.30"/></g><g transform="translate(177.1 677.4) rotate(-8)"><ellipse rx="4.0" ry="3.2" fill="#fff" stroke="#000" stroke-width="1.00"/><path d="M-3.2 0 Q0 0.8 3.2 0" fill="none" stroke="#000" stroke-width="1.30"/></g><g transform="translate(185.3 676.9) rotate(-20)"><ellipse rx="4.0" ry="3.2" fill="#fff" stroke="#000" stroke-width="1.00"/><path d="M-3.2 0 Q0 0.8 3.2 0" fill="none" stroke="#000" stroke-width="1.30"/></g><g transform="translate(192.4 676.9) rotate(2)"><ellipse rx="4.0" ry="3.2" fill="#fff" stroke="#000" stroke-width="1.00"/><path d="M-3.2 0 Q0 0.8 3.2 0" fill="none" stroke="#000" stroke-width="1.30"/></g><g transform="translate(197.9 677.4) rotate(3)"><ellipse rx="4.0" ry="3.2" fill="#fff" stroke="#000" stroke-width="1.00"/><path d="M-3.2 0 Q0 0.8 3.2 0" fill="none" stroke="#000" stroke-width="1.30"/></g><g transform="translate(205.7 679.2) rotate(-33)"><ellipse rx="4.0" ry="3.2" fill="#fff" stroke="#000" stroke-width="1.00"/><path d="M-3.2 0 Q0 0.8 3.2 0" fill="none" stroke="#000" stroke-width="1.30"/></g><g transform="translate(212.5 682.8) rotate(-7)"><ellipse rx="4.0" ry="3.2" fill="#fff" stroke="#000" stroke-width="1.00"/><path d="M-3.2 0 Q0 0.8 3.2 0" fill="none" stroke="#000" stroke-width="1.30"/></g><g transform="translate(219.6 685.7) rotate(-1)"><ellipse rx="4.0" ry="3.2" fill="#fff" stroke="#000" stroke-width="1.00"/><path d="M-3.2 0 Q0 0.8 3.2 0" fill="none" stroke="#000" stroke-width="1.30"/></g><g transform="translate(138.1 690.6) rotate(3)"><ellipse rx="4.0" ry="3.2" fill="#fff" stroke="#000" stroke-width="1.00"/><path d="M-3.2 0 Q0 0.8 3.2 0" fill="none" stroke="#000" stroke-width="1.30"/></g><g transform="translate(146.9 689.6) rotate(30)"><ellipse rx="4.0" ry="3.2" fill="#fff" stroke="#000" stroke-width="1.00"/><path d="M-3.2 0 Q0 0.8 3.2 0" fill="none" stroke="#000" stroke-width="1.30"/></g><g transform="translate(152.9 687.9) rotate(-26)"><ellipse rx="4.0" ry="3.2" fill="#fff" stroke="#000" stroke-width="1.00"/><path d="M-3.2 0 Q0 0.8 3.2 0" fill="none" stroke="#000" stroke-width="1.30"/></g><g transform="translate(160.6 686.4) rotate(28)"><ellipse rx="4.0" ry="3.2" fill="#fff" stroke="#000" stroke-width="1.00"/><path d="M-3.2 0 Q0 0.8 3.2 0" fill="none" stroke="#000" stroke-width="1.30"/></g><g transform="translate(166.6 684.6) rotate(-22)"><ellipse rx="4.0" ry="3.2" fill="#fff" stroke="#000" stroke-width="1.00"/><path d="M-3.2 0 Q0 0.8 3.2 0" fill="none" stroke="#000" stroke-width="1.30"/></g><g transform="translate(174.9 683.2) rotate(-26)"><ellipse rx="4.0" ry="3.2" fill="#fff" stroke="#000" stroke-width="1.00"/><path d="M-3.2 0 Q0 0.8 3.2 0" fill="none" stroke="#000" stroke-width="1.30"/></g><g transform="translate(180.0 682.3) rotate(-21)"><ellipse rx="4.0" ry="3.2" fill="#fff" stroke="#000" stroke-width="1.00"/><path d="M-3.2 0 Q0 0.8 3.2 0" fill="none" stroke="#000" stroke-width="1.30"/></g><g transform="translate(188.4 680.9) rotate(-12)"><ellipse rx="4.0" ry="3.2" fill="#fff" stroke="#000" stroke-width="1.00"/><path d="M-3.2 0 Q0 0.8 3.2 0" fill="none" stroke="#000" stroke-width="1.30"/></g><g transform="translate(195.2 681.5) rotate(-28)"><ellipse rx="4.0" ry="3.2" fill="#fff" stroke="#000" stroke-width="1.00"/><path d="M-3.2 0 Q0 0.8 3.2 0" fill="none" stroke="#000" stroke-width="1.30"/></g><g transform="translate(201.2 683.5) rotate(1)"><ellipse rx="4.0" ry="3.2" fill="#fff" stroke="#000" stroke-width="1.00"/><path d="M-3.2 0 Q0 0.8 3.2 0" fill="none" stroke="#000" stroke-width="1.30"/></g><g transform="translate(208.4 685.2) rotate(2)"><ellipse rx="4.0" ry="3.2" fill="#fff" stroke="#000" stroke-width="1.00"/><path d="M-3.2 0 Q0 0.8 3.2 0" fill="none" stroke="#000" stroke-width="1.30"/></g><g transform="translate(215.8 688.7) rotate(-6)"><ellipse rx="4.0" ry="3.2" fill="#fff" stroke="#000" stroke-width="1.00"/><path d="M-3.2 0 Q0 0.8 3.2 0" fill="none" stroke="#000" stroke-width="1.30"/></g></g><path d="M166.4 594 L166.4 644 M181.3 594.9 L181.3 648 M215.8 597 L215 637" fill="none" stroke="#000" stroke-width="1.53" stroke-linejoin="round" stroke-linecap="round"/><path d="M181.3 647 L181.3 652 L207 645 L207 640 Z" fill="#fff" fill="none" stroke="#000" stroke-width="1.07" stroke-linejoin="round" stroke-linecap="round"/><path d="M139.1 597.8 L181.3 590.5 L219 596 M139.1 597.8 L166.4 601 L181.3 602 L219 596 M166.4 601 L166.4 621 M181.3 602 L181.3 618" fill="none" stroke="#000" stroke-width="1.53" stroke-linejoin="round" stroke-linecap="round"/><path d="M217.3 633 L217.3 644 Q225 646 232.7 644 L232.7 633" fill="#fff" fill="none" stroke="#000" stroke-width="1.53" stroke-linejoin="round" stroke-linecap="round"/><ellipse cx="225" cy="633" rx="7.7" ry="2.2" fill="#fff" fill="none" stroke="#000" stroke-width="1.53" stroke-linejoin="round" stroke-linecap="round"/><path d="M217.3 638 Q225 640 232.7 638 M217.3 641 Q225 643 232.7 641" fill="none" stroke="#000" stroke-width="1.07" stroke-linejoin="round" stroke-linecap="round"/></g><path d="M75.6 445.4 L103.6 456.6" fill="none" stroke="#000" stroke-width="3.6"/><path d="M75.6 445.4 L103.6 456.6" fill="none" stroke="#fff" stroke-width="1.2"/><path d="M156 292.4 L206 260.5 Q207.5 259.8 208.5 261.2 L228.4 294.5 Q228.6 296 227 297 L176.3 327.6 Q158 318 156 292.4 Z" fill="#fff" fill="none" stroke="#000" stroke-width="1.15" stroke-linejoin="round" stroke-linecap="round"/><path d="M157.5 297 L205.5 266.8 L226.2 298.5 M205.5 266.8 L207.3 260.5" fill="none" stroke="#000" stroke-width="1.00" stroke-linejoin="round" stroke-linecap="round"/><g transform="translate(155.5 303.4) rotate(10)"><ellipse rx="2.4" ry="3.3" fill="#fff" stroke="#000" stroke-width="0.9"/><path d="M0 -2.6 Q-0.8 0 0 2.6" fill="none" stroke="#000" stroke-width="0.8"/></g><g transform="translate(152.1 314.4) rotate(-20)"><ellipse rx="2.4" ry="3.3" fill="#fff" stroke="#000" stroke-width="0.9"/><path d="M0 -2.6 Q-0.8 0 0 2.6" fill="none" stroke="#000" stroke-width="0.8"/></g><g transform="translate(147.0 323.2) rotate(20)"><ellipse rx="2.4" ry="3.3" fill="#fff" stroke="#000" stroke-width="0.9"/><path d="M0 -2.6 Q-0.8 0 0 2.6" fill="none" stroke="#000" stroke-width="0.8"/></g><g transform="translate(163.9 321.0) rotate(-10)"><ellipse rx="2.4" ry="3.3" fill="#fff" stroke="#000" stroke-width="0.9"/><path d="M0 -2.6 Q-0.8 0 0 2.6" fill="none" stroke="#000" stroke-width="0.8"/></g><g transform="translate(156.5 326.6) rotate(5)"><ellipse rx="2.4" ry="3.3" fill="#fff" stroke="#000" stroke-width="0.9"/><path d="M0 -2.6 Q-0.8 0 0 2.6" fill="none" stroke="#000" stroke-width="0.8"/></g><g transform="translate(135.3 335.4) rotate(0)"><ellipse rx="2.4" ry="3.3" fill="#fff" stroke="#000" stroke-width="0.9"/><path d="M0 -2.6 Q-0.8 0 0 2.6" fill="none" stroke="#000" stroke-width="0.8"/></g><g transform="translate(146.3 335.4) rotate(0)"><ellipse rx="2.4" ry="3.3" fill="#fff" stroke="#000" stroke-width="0.9"/><path d="M0 -2.6 Q-0.8 0 0 2.6" fill="none" stroke="#000" stroke-width="0.8"/></g><g transform="translate(157.6 335.0) rotate(0)"><ellipse rx="2.4" ry="3.3" fill="#fff" stroke="#000" stroke-width="0.9"/><path d="M0 -2.6 Q-0.8 0 0 2.6" fill="none" stroke="#000" stroke-width="0.8"/></g><g transform="translate(147.0 349.6) rotate(-30)"><ellipse rx="2.4" ry="3.3" fill="#fff" stroke="#000" stroke-width="0.9"/><path d="M0 -2.6 Q-0.8 0 0 2.6" fill="none" stroke="#000" stroke-width="0.8"/></g><g transform="translate(154.0 355.9) rotate(20)"><ellipse rx="2.4" ry="3.3" fill="#fff" stroke="#000" stroke-width="0.9"/><path d="M0 -2.6 Q-0.8 0 0 2.6" fill="none" stroke="#000" stroke-width="0.8"/></g><circle cx="86.3" cy="337.1" r="9.6" fill="#000"/><text x="86.3" y="342.4" font-family="Liberation Sans" font-weight="bold" font-size="15.6" fill="#fff" stroke="#fff" stroke-width="0.5" text-anchor="middle">B</text><circle cx="191.8" cy="395.0" r="9.6" fill="#000"/><text x="191.8" y="400.3" font-family="Liberation Sans" font-weight="bold" font-size="15.6" fill="#fff" stroke="#fff" stroke-width="0.5" text-anchor="middle">H</text><circle cx="208.6" cy="427.2" r="9.6" fill="#000"/><text x="208.6" y="432.5" font-family="Liberation Sans" font-weight="bold" font-size="15.6" fill="#fff" stroke="#fff" stroke-width="0.5" text-anchor="middle">F</text><circle cx="159.0" cy="458.6" r="9.6" fill="#000"/><text x="159.0" y="463.9" font-family="Liberation Sans" font-weight="bold" font-size="15.6" fill="#fff" stroke="#fff" stroke-width="0.5" text-anchor="middle">E</text><circle cx="254.8" cy="456.6" r="9.6" fill="#000"/><text x="254.8" y="461.9" font-family="Liberation Sans" font-weight="bold" font-size="15.6" fill="#fff" stroke="#fff" stroke-width="0.5" text-anchor="middle">A</text><path d="M202.5 472.2 L202.5 479.5 Q202.5 481 205 481.8 L226.5 489.5 Q232.3 491.5 238 489.5 L263 480 Q265.4 479 265.4 477.5 L265.4 471 Z" fill="#fff" fill="none" stroke="#000" stroke-width="1.10" stroke-linejoin="round" stroke-linecap="round"/><path d="M202.5 472.2 Q202.5 470.2 205 469.5 L233 462.5 Q235.5 461.8 238 462.5 L263 469 Q265.4 469.8 265.4 471 Q265.2 472.2 263 473 L238 480.2 Q232.3 482.3 226.5 480.5 L205 474 Q202.5 473.2 202.5 472.2 Z" fill="#fff" fill="none" stroke="#000" stroke-width="1.10" stroke-linejoin="round" stroke-linecap="round"/><path d="M202.5 477.5 L226.5 486 Q232.3 488 238 486 L265.4 476 M226.5 480.5 L226.5 489.5 M238 480.2 L238 489.5" fill="none" stroke="#000" stroke-width="1.00" stroke-linejoin="round" stroke-linecap="round"/><g><path d="M203 664 L232.3 657 L232.3 705 M203.7 664 L203.7 705" fill="none" stroke="#000" stroke-width="1.60" stroke-linejoin="round" stroke-linecap="round"/><path d="M140.4 654 L140.4 749.2 M196.7 663 L196.7 759.6 M201 663 L201 758" fill="none" stroke="#000" stroke-width="1.60" stroke-linejoin="round" stroke-linecap="round"/><path d="M143.2 655 L143.2 750.5" fill="none" stroke="#000" stroke-width="1.12" stroke-linejoin="round" stroke-linecap="round"/><path d="M147.0 655 L147.0 750.5" fill="none" stroke="#000" stroke-width="1.12" stroke-linejoin="round" stroke-linecap="round"/><path d="M151.2 655 L151.2 750.5" fill="none" stroke="#000" stroke-width="1.12" stroke-linejoin="round" stroke-linecap="round"/><path d="M155.6 655 L155.6 750.5" fill="none" stroke="#000" stroke-width="1.12" stroke-linejoin="round" stroke-linecap="round"/><path d="M167.0 659 L167.0 755" fill="none" stroke="#000" stroke-width="1.12" stroke-linejoin="round" stroke-linecap="round"/><path d="M171.4 659 L171.4 755" fill="none" stroke="#000" stroke-width="1.12" stroke-linejoin="round" stroke-linecap="round"/><path d="M176.0 659 L176.0 755" fill="none" stroke="#000" stroke-width="1.12" stroke-linejoin="round" stroke-linecap="round"/><path d="M180.6 659 L180.6 755" fill="none" stroke="#000" stroke-width="1.12" stroke-linejoin="round" stroke-linecap="round"/><path d="M138.7 747.3 Q138.7 760 146 762 L178.5 776 L190.7 776.8 L235.7 785.5 L253.9 783.7 L253.9 764.7 Q250 758 240 757 L203 755 L178.5 761.2 Z" fill="#fff" fill="none" stroke="#000" stroke-width="1.60" stroke-linejoin="round" stroke-linecap="round"/><path d="M178.5 761.2 L178.5 776 M190.7 762 L190.7 776.8 M190.7 762 L235.7 769 L253.9 764.7 M235.7 769 L235.7 785.5" fill="none" stroke="#000" stroke-width="1.60" stroke-linejoin="round" stroke-linecap="round"/><path d="M140.4 740 Q141 748 150 751 L196.7 759.6 L203 757" fill="none" stroke="#000" stroke-width="1.60" stroke-linejoin="round" stroke-linecap="round"/><rect x="241.8" y="771.6" width="9.5" height="8" fill="#fff" fill="none" stroke="#000" stroke-width="1.60" stroke-linejoin="round" stroke-linecap="round"/><rect x="243.8" y="774" width="5.5" height="3.2" fill="#000"/><path d="M145 766 Q145 769.5 147.3 769.5 Q149.6 769.5 149.6 767 M217.5 785 Q217.5 789 220 789 Q222.5 789 222.5 785.8" fill="#fff" fill="none" stroke="#000" stroke-width="1.60" stroke-linejoin="round" stroke-linecap="round"/><path d="M204.5 708.5 L204.5 761 Q228 774 251.3 759.6 L251.3 708.5" fill="#fff" fill="none" stroke="#000" stroke-width="1.60" stroke-linejoin="round" stroke-linecap="round"/><ellipse cx="228" cy="708.5" rx="23.4" ry="7.3" fill="#fff" fill="none" stroke="#000" stroke-width="1.60" stroke-linejoin="round" stroke-linecap="round"/><path d="M204.5 712 Q228 726 251.3 712" fill="none" stroke="#000" stroke-width="1.60" stroke-linejoin="round" stroke-linecap="round"/><ellipse cx="245.3" cy="725" rx="4" ry="2.4" fill="none" fill="none" stroke="#000" stroke-width="1.12" stroke-linejoin="round" stroke-linecap="round"/><path d="M243.5 732.7 L249 732.1" fill="none" stroke="#000" stroke-width="1.12" stroke-linejoin="round" stroke-linecap="round"/><path d="M245.5 737.9 L249 737.3" fill="none" stroke="#000" stroke-width="1.12" stroke-linejoin="round" stroke-linecap="round"/><path d="M243.5 743.1 L249 742.5" fill="none" stroke="#000" stroke-width="1.12" stroke-linejoin="round" stroke-linecap="round"/><path d="M245.5 748.3 L249 747.7" fill="none" stroke="#000" stroke-width="1.12" stroke-linejoin="round" stroke-linecap="round"/><path d="M243.5 753.5 L249 752.9" fill="none" stroke="#000" stroke-width="1.12" stroke-linejoin="round" stroke-linecap="round"/><path d="M140.4 643.5 L140.4 653 Q141 658 148 659.5 L190 664 Q196 664.5 203 663 L232.3 656 L232.3 643 Z" fill="#fff" fill="none" stroke="#000" stroke-width="1.60" stroke-linejoin="round" stroke-linecap="round"/><path d="M140.4 643.5 L181.3 650 L232.7 642.5" fill="none" stroke="#000" stroke-width="1.60" stroke-linejoin="round" stroke-linecap="round"/><path d="M204 667 Q201.5 657 210.5 655.3 Q218.5 654.5 222.5 660.5 L234.5 680 Q236.6 684 236.6 690 L236.6 699 Q228 703 220.1 700.7 L220.1 689 Q220.1 684.5 217 680.5 Z" fill="#fff" fill="none" stroke="#000" stroke-width="1.60" stroke-linejoin="round" stroke-linecap="round"/><clipPath id="hc3"><path d="M139.1 597.8 L142 641 L181.3 648 L218 636.7 L219 596 Z"/></clipPath><path d="M139.1 597.8 L142 641 L181.3 648 L218 636.7 L219 596" fill="#fff" fill="none" stroke="#000" stroke-width="1.60" stroke-linejoin="round" stroke-linecap="round"/><g clip-path="url(#hc3)"><path d="M141.0 633.0 L142.9 632.8 L144.9 632.6 L146.8 632.2 L148.8 631.9 L150.8 631.5 L152.7 631.0 L154.7 630.6 L156.6 630.1 L158.6 629.6 L160.5 629.1 L162.4 628.6 L164.4 628.1 L166.3 627.5 L168.3 627.0 L170.2 626.6 L172.2 626.1 L174.2 625.7 L176.1 625.3 L178.1 624.9 L180.0 624.6 L181.9 624.4 L183.9 624.2 L185.8 624.1 L187.8 624.0 L189.8 624.0 L191.7 624.1 L193.7 624.3 L195.6 624.5 L197.6 624.8 L199.5 625.2 L201.4 625.7 L203.4 626.3 L205.3 626.9 L207.3 627.6 L209.2 628.4 L211.2 629.2 L213.2 630.1 L215.1 631.1 L217.1 632.0 L219.0 633.0 L219.0 652.0 L141.0 652.0 Z" fill="#000"/><g transform="translate(139.1 630.1) rotate(-9)"><ellipse rx="3.8" ry="3.0" fill="#fff" stroke="#000" stroke-width="1.30"/><path d="M-3.0 0 Q0 0.8 3.0 0" fill="none" stroke="#000" stroke-width="1.69"/></g><g transform="translate(145.9 630.1) rotate(-30)"><ellipse rx="3.8" ry="3.0" fill="#fff" stroke="#000" stroke-width="1.30"/><path d="M-3.0 0 Q0 0.8 3.0 0" fill="none" stroke="#000" stroke-width="1.69"/></g><g transform="translate(153.0 627.8) rotate(-17)"><ellipse rx="3.8" ry="3.0" fill="#fff" stroke="#000" stroke-width="1.30"/><path d="M-3.0 0 Q0 0.8 3.0 0" fill="none" stroke="#000" stroke-width="1.69"/></g><g transform="translate(159.9 626.6) rotate(-2)"><ellipse rx="3.8" ry="3.0" fill="#fff" stroke="#000" stroke-width="1.30"/><path d="M-3.0 0 Q0 0.8 3.0 0" fill="none" stroke="#000" stroke-width="1.69"/></g><g transform="translate(165.6 625.8) rotate(10)"><ellipse rx="3.8" ry="3.0" fill="#fff" stroke="#000" stroke-width="1.30"/><path d="M-3.0 0 Q0 0.8 3.0 0" fill="none" stroke="#000" stroke-width="1.69"/></g><g transform="translate(172.5 623.0) rotate(26)"><ellipse rx="3.8" ry="3.0" fill="#fff" stroke="#000" stroke-width="1.30"/><path d="M-3.0 0 Q0 0.8 3.0 0" fill="none" stroke="#000" stroke-width="1.69"/></g><g transform="translate(179.4 622.3) rotate(12)"><ellipse rx="3.8" ry="3.0" fill="#fff" stroke="#000" stroke-width="1.30"/><path d="M-3.0 0 Q0 0.8 3.0 0" fill="none" stroke="#000" stroke-width="1.69"/></g><g transform="translate(186.1 620.9) rotate(6)"><ellipse rx="3.8" ry="3.0" fill="#fff" stroke="#000" stroke-width="1.30"/><path d="M-3.0 0 Q0 0.8 3.0 0" fill="none" stroke="#000" stroke-width="1.69"/></g><g transform="translate(191.3 621.3) rotate(26)"><ellipse rx="3.8" ry="3.0" fill="#fff" stroke="#000" stroke-width="1.30"/><path d="M-3.0 0 Q0 0.8 3.0 0" fill="none" stroke="#000" stroke-width="1.69"/></g><g transform="translate(199.3 622.5) rotate(27)"><ellipse rx="3.8" ry="3.0" fill="#fff" stroke="#000" stroke-width="1.30"/><path d="M-3.0 0 Q0 0.8 3.0 0" fill="none" stroke="#000" stroke-width="1.69"/></g><g transform="translate(206.3 624.8) rotate(-7)"><ellipse rx="3.8" ry="3.0" fill="#fff" stroke="#000" stroke-width="1.30"/><path d="M-3.0 0 Q0 0.8 3.0 0" fill="none" stroke="#000" stroke-width="1.69"/></g><g transform="translate(212.0 627.6) rotate(30)"><ellipse rx="3.8" ry="3.0" fill="#fff" stroke="#000" stroke-width="1.30"/><path d="M-3.0 0 Q0 0.8 3.0 0" fill="none" stroke="#000" stroke-width="1.69"/></g><g transform="translate(218.0 631.0) rotate(-25)"><ellipse rx="3.8" ry="3.0" fill="#fff" stroke="#000" stroke-width="1.30"/><path d="M-3.0 0 Q0 0.8 3.0 0" fill="none" stroke="#000" stroke-width="1.69"/></g><g transform="translate(143.3 634.8) rotate(-4)"><ellipse rx="3.8" ry="3.0" fill="#fff" stroke="#000" stroke-width="1.30"/><path d="M-3.0 0 Q0 0.8 3.0 0" fill="none" stroke="#000" stroke-width="1.69"/></g><g transform="translate(148.6 634.4) rotate(1)"><ellipse rx="3.8" ry="3.0" fill="#fff" stroke="#000" stroke-width="1.30"/><path d="M-3.0 0 Q0 0.8 3.0 0" fill="none" stroke="#000" stroke-width="1.69"/></g><g transform="translate(155.3 632.5) rotate(6)"><ellipse rx="3.8" ry="3.0" fill="#fff" stroke="#000" stroke-width="1.30"/><path d="M-3.0 0 Q0 0.8 3.0 0" fill="none" stroke="#000" stroke-width="1.69"/></g><g transform="translate(163.1 631.1) rotate(13)"><ellipse rx="3.8" ry="3.0" fill="#fff" stroke="#000" stroke-width="1.30"/><path d="M-3.0 0 Q0 0.8 3.0 0" fill="none" stroke="#000" stroke-width="1.69"/></g><g transform="translate(169.6 629.9) rotate(34)"><ellipse rx="3.8" ry="3.0" fill="#fff" stroke="#000" stroke-width="1.30"/><path d="M-3.0 0 Q0 0.8 3.0 0" fill="none" stroke="#000" stroke-width="1.69"/></g><g transform="translate(174.9 628.0) rotate(25)"><ellipse rx="3.8" ry="3.0" fill="#fff" stroke="#000" stroke-width="1.30"/><path d="M-3.0 0 Q0 0.8 3.0 0" fill="none" stroke="#000" stroke-width="1.69"/></g><g transform="translate(183.0 627.4) rotate(5)"><ellipse rx="3.8" ry="3.0" fill="#fff" stroke="#000" stroke-width="1.30"/><path d="M-3.0 0 Q0 0.8 3.0 0" fill="none" stroke="#000" stroke-width="1.69"/></g><g transform="translate(188.3 626.7) rotate(23)"><ellipse rx="3.8" ry="3.0" fill="#fff" stroke="#000" stroke-width="1.30"/><path d="M-3.0 0 Q0 0.8 3.0 0" fill="none" stroke="#000" stroke-width="1.69"/></g><g transform="translate(195.1 626.9) rotate(-31)"><ellipse rx="3.8" ry="3.0" fill="#fff" stroke="#000" stroke-width="1.30"/><path d="M-3.0 0 Q0 0.8 3.0 0" fill="none" stroke="#000" stroke-width="1.69"/></g><g transform="translate(203.2 628.8) rotate(-29)"><ellipse rx="3.8" ry="3.0" fill="#fff" stroke="#000" stroke-width="1.30"/><path d="M-3.0 0 Q0 0.8 3.0 0" fill="none" stroke="#000" stroke-width="1.69"/></g><g transform="translate(208.6 631.0) rotate(-24)"><ellipse rx="3.8" ry="3.0" fill="#fff" stroke="#000" stroke-width="1.30"/><path d="M-3.0 0 Q0 0.8 3.0 0" fill="none" stroke="#000" stroke-width="1.69"/></g><g transform="translate(216.0 633.2) rotate(26)"><ellipse rx="3.8" ry="3.0" fill="#fff" stroke="#000" stroke-width="1.30"/><path d="M-3.0 0 Q0 0.8 3.0 0" fill="none" stroke="#000" stroke-width="1.69"/></g><g transform="translate(139.2 639.4) rotate(-32)"><ellipse rx="3.8" ry="3.0" fill="#fff" stroke="#000" stroke-width="1.30"/><path d="M-3.0 0 Q0 0.8 3.0 0" fill="none" stroke="#000" stroke-width="1.69"/></g><g transform="translate(145.3 640.0) rotate(27)"><ellipse rx="3.8" ry="3.0" fill="#fff" stroke="#000" stroke-width="1.30"/><path d="M-3.0 0 Q0 0.8 3.0 0" fill="none" stroke="#000" stroke-width="1.69"/></g><g transform="translate(152.3 639.0) rotate(35)"><ellipse rx="3.8" ry="3.0" fill="#fff" stroke="#000" stroke-width="1.30"/><path d="M-3.0 0 Q0 0.8 3.0 0" fill="none" stroke="#000" stroke-width="1.69"/></g><g transform="translate(158.1 636.3) rotate(7)"><ellipse rx="3.8" ry="3.0" fill="#fff" stroke="#000" stroke-width="1.30"/><path d="M-3.0 0 Q0 0.8 3.0 0" fill="none" stroke="#000" stroke-width="1.69"/></g><g transform="translate(165.0 634.1) rotate(-6)"><ellipse rx="3.8" ry="3.0" fill="#fff" stroke="#000" stroke-width="1.30"/><path d="M-3.0 0 Q0 0.8 3.0 0" fill="none" stroke="#000" stroke-width="1.69"/></g><g transform="translate(171.6 633.4) rotate(-32)"><ellipse rx="3.8" ry="3.0" fill="#fff" stroke="#000" stroke-width="1.30"/><path d="M-3.0 0 Q0 0.8 3.0 0" fill="none" stroke="#000" stroke-width="1.69"/></g><g transform="translate(178.5 632.5) rotate(32)"><ellipse rx="3.8" ry="3.0" fill="#fff" stroke="#000" stroke-width="1.30"/><path d="M-3.0 0 Q0 0.8 3.0 0" fill="none" stroke="#000" stroke-width="1.69"/></g><g transform="translate(185.3 631.9) rotate(-3)"><ellipse rx="3.8" ry="3.0" fill="#fff" stroke="#000" stroke-width="1.30"/><path d="M-3.0 0 Q0 0.8 3.0 0" fill="none" stroke="#000" stroke-width="1.69"/></g><g transform="translate(192.5 631.3) rotate(7)"><ellipse rx="3.8" ry="3.0" fill="#fff" stroke="#000" stroke-width="1.30"/><path d="M-3.0 0 Q0 0.8 3.0 0" fill="none" stroke="#000" stroke-width="1.69"/></g><g transform="translate(199.1 632.3) rotate(31)"><ellipse rx="3.8" ry="3.0" fill="#fff" stroke="#000" stroke-width="1.30"/><path d="M-3.0 0 Q0 0.8 3.0 0" fill="none" stroke="#000" stroke-width="1.69"/></g><g transform="translate(205.4 634.1) rotate(15)"><ellipse rx="3.8" ry="3.0" fill="#fff" stroke="#000" stroke-width="1.30"/><path d="M-3.0 0 Q0 0.8 3.0 0" fill="none" stroke="#000" stroke-width="1.69"/></g><g transform="translate(211.8 636.4) rotate(33)"><ellipse rx="3.8" ry="3.0" fill="#fff" stroke="#000" stroke-width="1.30"/><path d="M-3.0 0 Q0 0.8 3.0 0" fill="none" stroke="#000" stroke-width="1.69"/></g><g transform="translate(218.9 640.1) rotate(-34)"><ellipse rx="3.8" ry="3.0" fill="#fff" stroke="#000" stroke-width="1.30"/><path d="M-3.0 0 Q0 0.8 3.0 0" fill="none" stroke="#000" stroke-width="1.69"/></g><g transform="translate(142.5 644.7) rotate(-34)"><ellipse rx="3.8" ry="3.0" fill="#fff" stroke="#000" stroke-width="1.30"/><path d="M-3.0 0 Q0 0.8 3.0 0" fill="none" stroke="#000" stroke-width="1.69"/></g><g transform="translate(149.2 644.0) rotate(-31)"><ellipse rx="3.8" ry="3.0" fill="#fff" stroke="#000" stroke-width="1.30"/><path d="M-3.0 0 Q0 0.8 3.0 0" fill="none" stroke="#000" stroke-width="1.69"/></g><g transform="translate(155.6 642.5) rotate(13)"><ellipse rx="3.8" ry="3.0" fill="#fff" stroke="#000" stroke-width="1.30"/><path d="M-3.0 0 Q0 0.8 3.0 0" fill="none" stroke="#000" stroke-width="1.69"/></g><g transform="translate(162.7 640.4) rotate(17)"><ellipse rx="3.8" ry="3.0" fill="#fff" stroke="#000" stroke-width="1.30"/><path d="M-3.0 0 Q0 0.8 3.0 0" fill="none" stroke="#000" stroke-width="1.69"/></g><g transform="translate(168.0 638.1) rotate(12)"><ellipse rx="3.8" ry="3.0" fill="#fff" stroke="#000" stroke-width="1.30"/><path d="M-3.0 0 Q0 0.8 3.0 0" fill="none" stroke="#000" stroke-width="1.69"/></g><g transform="translate(175.1 638.1) rotate(-3)"><ellipse rx="3.8" ry="3.0" fill="#fff" stroke="#000" stroke-width="1.30"/><path d="M-3.0 0 Q0 0.8 3.0 0" fill="none" stroke="#000" stroke-width="1.69"/></g><g transform="translate(181.9 636.5) rotate(-10)"><ellipse rx="3.8" ry="3.0" fill="#fff" stroke="#000" stroke-width="1.30"/><path d="M-3.0 0 Q0 0.8 3.0 0" fill="none" stroke="#000" stroke-width="1.69"/></g><g transform="translate(188.6 635.7) rotate(7)"><ellipse rx="3.8" ry="3.0" fill="#fff" stroke="#000" stroke-width="1.30"/><path d="M-3.0 0 Q0 0.8 3.0 0" fill="none" stroke="#000" stroke-width="1.69"/></g><g transform="translate(195.3 636.2) rotate(19)"><ellipse rx="3.8" ry="3.0" fill="#fff" stroke="#000" stroke-width="1.30"/><path d="M-3.0 0 Q0 0.8 3.0 0" fill="none" stroke="#000" stroke-width="1.69"/></g><g transform="translate(202.3 637.1) rotate(16)"><ellipse rx="3.8" ry="3.0" fill="#fff" stroke="#000" stroke-width="1.30"/><path d="M-3.0 0 Q0 0.8 3.0 0" fill="none" stroke="#000" stroke-width="1.69"/></g><g transform="translate(208.3 639.9) rotate(21)"><ellipse rx="3.8" ry="3.0" fill="#fff" stroke="#000" stroke-width="1.30"/><path d="M-3.0 0 Q0 0.8 3.0 0" fill="none" stroke="#000" stroke-width="1.69"/></g><g transform="translate(214.8 642.8) rotate(-5)"><ellipse rx="3.8" ry="3.0" fill="#fff" stroke="#000" stroke-width="1.30"/><path d="M-3.0 0 Q0 0.8 3.0 0" fill="none" stroke="#000" stroke-width="1.69"/></g><g transform="translate(138.2 650.1) rotate(-12)"><ellipse rx="3.8" ry="3.0" fill="#fff" stroke="#000" stroke-width="1.30"/><path d="M-3.0 0 Q0 0.8 3.0 0" fill="none" stroke="#000" stroke-width="1.69"/></g><g transform="translate(146.3 649.0) rotate(-4)"><ellipse rx="3.8" ry="3.0" fill="#fff" stroke="#000" stroke-width="1.30"/><path d="M-3.0 0 Q0 0.8 3.0 0" fill="none" stroke="#000" stroke-width="1.69"/></g><g transform="translate(151.6 648.5) rotate(-11)"><ellipse rx="3.8" ry="3.0" fill="#fff" stroke="#000" stroke-width="1.30"/><path d="M-3.0 0 Q0 0.8 3.0 0" fill="none" stroke="#000" stroke-width="1.69"/></g><g transform="translate(159.7 646.5) rotate(-3)"><ellipse rx="3.8" ry="3.0" fill="#fff" stroke="#000" stroke-width="1.30"/><path d="M-3.0 0 Q0 0.8 3.0 0" fill="none" stroke="#000" stroke-width="1.69"/></g><g transform="translate(164.8 644.1) rotate(2)"><ellipse rx="3.8" ry="3.0" fill="#fff" stroke="#000" stroke-width="1.30"/><path d="M-3.0 0 Q0 0.8 3.0 0" fill="none" stroke="#000" stroke-width="1.69"/></g><g transform="translate(172.9 642.4) rotate(24)"><ellipse rx="3.8" ry="3.0" fill="#fff" stroke="#000" stroke-width="1.30"/><path d="M-3.0 0 Q0 0.8 3.0 0" fill="none" stroke="#000" stroke-width="1.69"/></g><g transform="translate(178.5 641.1) rotate(22)"><ellipse rx="3.8" ry="3.0" fill="#fff" stroke="#000" stroke-width="1.30"/><path d="M-3.0 0 Q0 0.8 3.0 0" fill="none" stroke="#000" stroke-width="1.69"/></g><g transform="translate(186.2 641.1) rotate(-11)"><ellipse rx="3.8" ry="3.0" fill="#fff" stroke="#000" stroke-width="1.30"/><path d="M-3.0 0 Q0 0.8 3.0 0" fill="none" stroke="#000" stroke-width="1.69"/></g><g transform="translate(191.8 640.3) rotate(21)"><ellipse rx="3.8" ry="3.0" fill="#fff" stroke="#000" stroke-width="1.30"/><path d="M-3.0 0 Q0 0.8 3.0 0" fill="none" stroke="#000" stroke-width="1.69"/></g><g transform="translate(198.5 641.5) rotate(-6)"><ellipse rx="3.8" ry="3.0" fill="#fff" stroke="#000" stroke-width="1.30"/><path d="M-3.0 0 Q0 0.8 3.0 0" fill="none" stroke="#000" stroke-width="1.69"/></g><g transform="translate(205.3 643.6) rotate(29)"><ellipse rx="3.8" ry="3.0" fill="#fff" stroke="#000" stroke-width="1.30"/><path d="M-3.0 0 Q0 0.8 3.0 0" fill="none" stroke="#000" stroke-width="1.69"/></g><g transform="translate(211.2 645.9) rotate(31)"><ellipse rx="3.8" ry="3.0" fill="#fff" stroke="#000" stroke-width="1.30"/><path d="M-3.0 0 Q0 0.8 3.0 0" fill="none" stroke="#000" stroke-width="1.69"/></g><g transform="translate(219.8 650.3) rotate(-5)"><ellipse rx="3.8" ry="3.0" fill="#fff" stroke="#000" stroke-width="1.30"/><path d="M-3.0 0 Q0 0.8 3.0 0" fill="none" stroke="#000" stroke-width="1.69"/></g><g transform="translate(143.2 655.3) rotate(-19)"><ellipse rx="3.8" ry="3.0" fill="#fff" stroke="#000" stroke-width="1.30"/><path d="M-3.0 0 Q0 0.8 3.0 0" fill="none" stroke="#000" stroke-width="1.69"/></g><g transform="translate(149.6 653.9) rotate(11)"><ellipse rx="3.8" ry="3.0" fill="#fff" stroke="#000" stroke-width="1.30"/><path d="M-3.0 0 Q0 0.8 3.0 0" fill="none" stroke="#000" stroke-width="1.69"/></g><g transform="translate(155.2 652.0) rotate(-11)"><ellipse rx="3.8" ry="3.0" fill="#fff" stroke="#000" stroke-width="1.30"/><path d="M-3.0 0 Q0 0.8 3.0 0" fill="none" stroke="#000" stroke-width="1.69"/></g><g transform="translate(161.4 649.8) rotate(6)"><ellipse rx="3.8" ry="3.0" fill="#fff" stroke="#000" stroke-width="1.30"/><path d="M-3.0 0 Q0 0.8 3.0 0" fill="none" stroke="#000" stroke-width="1.69"/></g><g transform="translate(169.5 648.2) rotate(-32)"><ellipse rx="3.8" ry="3.0" fill="#fff" stroke="#000" stroke-width="1.30"/><path d="M-3.0 0 Q0 0.8 3.0 0" fill="none" stroke="#000" stroke-width="1.69"/></g><g transform="translate(176.0 647.7) rotate(30)"><ellipse rx="3.8" ry="3.0" fill="#fff" stroke="#000" stroke-width="1.30"/><path d="M-3.0 0 Q0 0.8 3.0 0" fill="none" stroke="#000" stroke-width="1.69"/></g><g transform="translate(183.0 646.6) rotate(5)"><ellipse rx="3.8" ry="3.0" fill="#fff" stroke="#000" stroke-width="1.30"/><path d="M-3.0 0 Q0 0.8 3.0 0" fill="none" stroke="#000" stroke-width="1.69"/></g><g transform="translate(189.4 644.9) rotate(-23)"><ellipse rx="3.8" ry="3.0" fill="#fff" stroke="#000" stroke-width="1.30"/><path d="M-3.0 0 Q0 0.8 3.0 0" fill="none" stroke="#000" stroke-width="1.69"/></g><g transform="translate(195.9 645.8) rotate(2)"><ellipse rx="3.8" ry="3.0" fill="#fff" stroke="#000" stroke-width="1.30"/><path d="M-3.0 0 Q0 0.8 3.0 0" fill="none" stroke="#000" stroke-width="1.69"/></g><g transform="translate(203.1 647.4) rotate(8)"><ellipse rx="3.8" ry="3.0" fill="#fff" stroke="#000" stroke-width="1.30"/><path d="M-3.0 0 Q0 0.8 3.0 0" fill="none" stroke="#000" stroke-width="1.69"/></g><g transform="translate(208.3 649.6) rotate(25)"><ellipse rx="3.8" ry="3.0" fill="#fff" stroke="#000" stroke-width="1.30"/><path d="M-3.0 0 Q0 0.8 3.0 0" fill="none" stroke="#000" stroke-width="1.69"/></g><g transform="translate(216.0 652.8) rotate(-10)"><ellipse rx="3.8" ry="3.0" fill="#fff" stroke="#000" stroke-width="1.30"/><path d="M-3.0 0 Q0 0.8 3.0 0" fill="none" stroke="#000" stroke-width="1.69"/></g><g transform="translate(139.1 659.0) rotate(22)"><ellipse rx="3.8" ry="3.0" fill="#fff" stroke="#000" stroke-width="1.30"/><path d="M-3.0 0 Q0 0.8 3.0 0" fill="none" stroke="#000" stroke-width="1.69"/></g><g transform="translate(146.2 658.4) rotate(30)"><ellipse rx="3.8" ry="3.0" fill="#fff" stroke="#000" stroke-width="1.30"/><path d="M-3.0 0 Q0 0.8 3.0 0" fill="none" stroke="#000" stroke-width="1.69"/></g><g transform="translate(152.9 658.1) rotate(-34)"><ellipse rx="3.8" ry="3.0" fill="#fff" stroke="#000" stroke-width="1.30"/><path d="M-3.0 0 Q0 0.8 3.0 0" fill="none" stroke="#000" stroke-width="1.69"/></g><g transform="translate(159.7 656.1) rotate(-32)"><ellipse rx="3.8" ry="3.0" fill="#fff" stroke="#000" stroke-width="1.30"/><path d="M-3.0 0 Q0 0.8 3.0 0" fill="none" stroke="#000" stroke-width="1.69"/></g><g transform="translate(165.1 653.8) rotate(2)"><ellipse rx="3.8" ry="3.0" fill="#fff" stroke="#000" stroke-width="1.30"/><path d="M-3.0 0 Q0 0.8 3.0 0" fill="none" stroke="#000" stroke-width="1.69"/></g><g transform="translate(172.2 652.4) rotate(19)"><ellipse rx="3.8" ry="3.0" fill="#fff" stroke="#000" stroke-width="1.30"/><path d="M-3.0 0 Q0 0.8 3.0 0" fill="none" stroke="#000" stroke-width="1.69"/></g><g transform="translate(178.0 650.5) rotate(-26)"><ellipse rx="3.8" ry="3.0" fill="#fff" stroke="#000" stroke-width="1.30"/><path d="M-3.0 0 Q0 0.8 3.0 0" fill="none" stroke="#000" stroke-width="1.69"/></g><g transform="translate(184.7 649.9) rotate(33)"><ellipse rx="3.8" ry="3.0" fill="#fff" stroke="#000" stroke-width="1.30"/><path d="M-3.0 0 Q0 0.8 3.0 0" fill="none" stroke="#000" stroke-width="1.69"/></g><g transform="translate(191.4 651.2) rotate(0)"><ellipse rx="3.8" ry="3.0" fill="#fff" stroke="#000" stroke-width="1.30"/><path d="M-3.0 0 Q0 0.8 3.0 0" fill="none" stroke="#000" stroke-width="1.69"/></g><g transform="translate(198.5 651.2) rotate(-10)"><ellipse rx="3.8" ry="3.0" fill="#fff" stroke="#000" stroke-width="1.30"/><path d="M-3.0 0 Q0 0.8 3.0 0" fill="none" stroke="#000" stroke-width="1.69"/></g><g transform="translate(205.7 653.7) rotate(-10)"><ellipse rx="3.8" ry="3.0" fill="#fff" stroke="#000" stroke-width="1.30"/><path d="M-3.0 0 Q0 0.8 3.0 0" fill="none" stroke="#000" stroke-width="1.69"/></g><g transform="translate(211.8 655.6) rotate(-26)"><ellipse rx="3.8" ry="3.0" fill="#fff" stroke="#000" stroke-width="1.30"/><path d="M-3.0 0 Q0 0.8 3.0 0" fill="none" stroke="#000" stroke-width="1.69"/></g><g transform="translate(219.2 659.4) rotate(-8)"><ellipse rx="3.8" ry="3.0" fill="#fff" stroke="#000" stroke-width="1.30"/><path d="M-3.0 0 Q0 0.8 3.0 0" fill="none" stroke="#000" stroke-width="1.69"/></g><g transform="translate(141.7 663.5) rotate(-9)"><ellipse rx="3.8" ry="3.0" fill="#fff" stroke="#000" stroke-width="1.30"/><path d="M-3.0 0 Q0 0.8 3.0 0" fill="none" stroke="#000" stroke-width="1.69"/></g><g transform="translate(149.5 663.3) rotate(-8)"><ellipse rx="3.8" ry="3.0" fill="#fff" stroke="#000" stroke-width="1.30"/><path d="M-3.0 0 Q0 0.8 3.0 0" fill="none" stroke="#000" stroke-width="1.69"/></g><g transform="translate(155.9 662.1) rotate(-5)"><ellipse rx="3.8" ry="3.0" fill="#fff" stroke="#000" stroke-width="1.30"/><path d="M-3.0 0 Q0 0.8 3.0 0" fill="none" stroke="#000" stroke-width="1.69"/></g><g transform="translate(162.3 659.7) rotate(14)"><ellipse rx="3.8" ry="3.0" fill="#fff" stroke="#000" stroke-width="1.30"/><path d="M-3.0 0 Q0 0.8 3.0 0" fill="none" stroke="#000" stroke-width="1.69"/></g><g transform="translate(169.3 658.0) rotate(-3)"><ellipse rx="3.8" ry="3.0" fill="#fff" stroke="#000" stroke-width="1.30"/><path d="M-3.0 0 Q0 0.8 3.0 0" fill="none" stroke="#000" stroke-width="1.69"/></g><g transform="translate(175.6 656.3) rotate(14)"><ellipse rx="3.8" ry="3.0" fill="#fff" stroke="#000" stroke-width="1.30"/><path d="M-3.0 0 Q0 0.8 3.0 0" fill="none" stroke="#000" stroke-width="1.69"/></g><g transform="translate(182.1 655.0) rotate(-5)"><ellipse rx="3.8" ry="3.0" fill="#fff" stroke="#000" stroke-width="1.30"/><path d="M-3.0 0 Q0 0.8 3.0 0" fill="none" stroke="#000" stroke-width="1.69"/></g><g transform="translate(189.7 655.9) rotate(-9)"><ellipse rx="3.8" ry="3.0" fill="#fff" stroke="#000" stroke-width="1.30"/><path d="M-3.0 0 Q0 0.8 3.0 0" fill="none" stroke="#000" stroke-width="1.69"/></g><g transform="translate(196.1 656.4) rotate(-17)"><ellipse rx="3.8" ry="3.0" fill="#fff" stroke="#000" stroke-width="1.30"/><path d="M-3.0 0 Q0 0.8 3.0 0" fill="none" stroke="#000" stroke-width="1.69"/></g><g transform="translate(201.4 657.1) rotate(22)"><ellipse rx="3.8" ry="3.0" fill="#fff" stroke="#000" stroke-width="1.30"/><path d="M-3.0 0 Q0 0.8 3.0 0" fill="none" stroke="#000" stroke-width="1.69"/></g><g transform="translate(209.6 659.8) rotate(20)"><ellipse rx="3.8" ry="3.0" fill="#fff" stroke="#000" stroke-width="1.30"/><path d="M-3.0 0 Q0 0.8 3.0 0" fill="none" stroke="#000" stroke-width="1.69"/></g><g transform="translate(215.9 662.8) rotate(4)"><ellipse rx="3.8" ry="3.0" fill="#fff" stroke="#000" stroke-width="1.30"/><path d="M-3.0 0 Q0 0.8 3.0 0" fill="none" stroke="#000" stroke-width="1.69"/></g><g transform="translate(139.2 668.5) rotate(-35)"><ellipse rx="3.8" ry="3.0" fill="#fff" stroke="#000" stroke-width="1.30"/><path d="M-3.0 0 Q0 0.8 3.0 0" fill="none" stroke="#000" stroke-width="1.69"/></g><g transform="translate(146.2 668.0) rotate(-32)"><ellipse rx="3.8" ry="3.0" fill="#fff" stroke="#000" stroke-width="1.30"/><path d="M-3.0 0 Q0 0.8 3.0 0" fill="none" stroke="#000" stroke-width="1.69"/></g><g transform="translate(151.5 666.6) rotate(27)"><ellipse rx="3.8" ry="3.0" fill="#fff" stroke="#000" stroke-width="1.30"/><path d="M-3.0 0 Q0 0.8 3.0 0" fill="none" stroke="#000" stroke-width="1.69"/></g><g transform="translate(158.0 665.1) rotate(24)"><ellipse rx="3.8" ry="3.0" fill="#fff" stroke="#000" stroke-width="1.30"/><path d="M-3.0 0 Q0 0.8 3.0 0" fill="none" stroke="#000" stroke-width="1.69"/></g><g transform="translate(166.3 663.2) rotate(12)"><ellipse rx="3.8" ry="3.0" fill="#fff" stroke="#000" stroke-width="1.30"/><path d="M-3.0 0 Q0 0.8 3.0 0" fill="none" stroke="#000" stroke-width="1.69"/></g><g transform="translate(173.2 662.7) rotate(6)"><ellipse rx="3.8" ry="3.0" fill="#fff" stroke="#000" stroke-width="1.30"/><path d="M-3.0 0 Q0 0.8 3.0 0" fill="none" stroke="#000" stroke-width="1.69"/></g><g transform="translate(178.0 661.4) rotate(19)"><ellipse rx="3.8" ry="3.0" fill="#fff" stroke="#000" stroke-width="1.30"/><path d="M-3.0 0 Q0 0.8 3.0 0" fill="none" stroke="#000" stroke-width="1.69"/></g><g transform="translate(186.0 660.2) rotate(-28)"><ellipse rx="3.8" ry="3.0" fill="#fff" stroke="#000" stroke-width="1.30"/><path d="M-3.0 0 Q0 0.8 3.0 0" fill="none" stroke="#000" stroke-width="1.69"/></g><g transform="translate(193.1 660.6) rotate(-31)"><ellipse rx="3.8" ry="3.0" fill="#fff" stroke="#000" stroke-width="1.30"/><path d="M-3.0 0 Q0 0.8 3.0 0" fill="none" stroke="#000" stroke-width="1.69"/></g><g transform="translate(199.0 660.9) rotate(23)"><ellipse rx="3.8" ry="3.0" fill="#fff" stroke="#000" stroke-width="1.30"/><path d="M-3.0 0 Q0 0.8 3.0 0" fill="none" stroke="#000" stroke-width="1.69"/></g><g transform="translate(204.9 662.7) rotate(-18)"><ellipse rx="3.8" ry="3.0" fill="#fff" stroke="#000" stroke-width="1.30"/><path d="M-3.0 0 Q0 0.8 3.0 0" fill="none" stroke="#000" stroke-width="1.69"/></g><g transform="translate(212.7 666.0) rotate(-7)"><ellipse rx="3.8" ry="3.0" fill="#fff" stroke="#000" stroke-width="1.30"/><path d="M-3.0 0 Q0 0.8 3.0 0" fill="none" stroke="#000" stroke-width="1.69"/></g><g transform="translate(218.6 668.8) rotate(-10)"><ellipse rx="3.8" ry="3.0" fill="#fff" stroke="#000" stroke-width="1.30"/><path d="M-3.0 0 Q0 0.8 3.0 0" fill="none" stroke="#000" stroke-width="1.69"/></g><g transform="translate(141.5 673.7) rotate(0)"><ellipse rx="3.8" ry="3.0" fill="#fff" stroke="#000" stroke-width="1.30"/><path d="M-3.0 0 Q0 0.8 3.0 0" fill="none" stroke="#000" stroke-width="1.69"/></g><g transform="translate(148.8 673.5) rotate(17)"><ellipse rx="3.8" ry="3.0" fill="#fff" stroke="#000" stroke-width="1.30"/><path d="M-3.0 0 Q0 0.8 3.0 0" fill="none" stroke="#000" stroke-width="1.69"/></g><g transform="translate(156.0 670.7) rotate(18)"><ellipse rx="3.8" ry="3.0" fill="#fff" stroke="#000" stroke-width="1.30"/><path d="M-3.0 0 Q0 0.8 3.0 0" fill="none" stroke="#000" stroke-width="1.69"/></g><g transform="translate(162.3 669.8) rotate(-1)"><ellipse rx="3.8" ry="3.0" fill="#fff" stroke="#000" stroke-width="1.30"/><path d="M-3.0 0 Q0 0.8 3.0 0" fill="none" stroke="#000" stroke-width="1.69"/></g><g transform="translate(169.7 668.1) rotate(-25)"><ellipse rx="3.8" ry="3.0" fill="#fff" stroke="#000" stroke-width="1.30"/><path d="M-3.0 0 Q0 0.8 3.0 0" fill="none" stroke="#000" stroke-width="1.69"/></g><g transform="translate(176.1 665.7) rotate(29)"><ellipse rx="3.8" ry="3.0" fill="#fff" stroke="#000" stroke-width="1.30"/><path d="M-3.0 0 Q0 0.8 3.0 0" fill="none" stroke="#000" stroke-width="1.69"/></g><g transform="translate(182.1 665.3) rotate(15)"><ellipse rx="3.8" ry="3.0" fill="#fff" stroke="#000" stroke-width="1.30"/><path d="M-3.0 0 Q0 0.8 3.0 0" fill="none" stroke="#000" stroke-width="1.69"/></g><g transform="translate(188.4 664.4) rotate(-21)"><ellipse rx="3.8" ry="3.0" fill="#fff" stroke="#000" stroke-width="1.30"/><path d="M-3.0 0 Q0 0.8 3.0 0" fill="none" stroke="#000" stroke-width="1.69"/></g><g transform="translate(195.2 665.6) rotate(-19)"><ellipse rx="3.8" ry="3.0" fill="#fff" stroke="#000" stroke-width="1.30"/><path d="M-3.0 0 Q0 0.8 3.0 0" fill="none" stroke="#000" stroke-width="1.69"/></g><g transform="translate(203.1 667.2) rotate(-14)"><ellipse rx="3.8" ry="3.0" fill="#fff" stroke="#000" stroke-width="1.30"/><path d="M-3.0 0 Q0 0.8 3.0 0" fill="none" stroke="#000" stroke-width="1.69"/></g><g transform="translate(208.7 669.5) rotate(25)"><ellipse rx="3.8" ry="3.0" fill="#fff" stroke="#000" stroke-width="1.30"/><path d="M-3.0 0 Q0 0.8 3.0 0" fill="none" stroke="#000" stroke-width="1.69"/></g><g transform="translate(215.0 672.3) rotate(-20)"><ellipse rx="3.8" ry="3.0" fill="#fff" stroke="#000" stroke-width="1.30"/><path d="M-3.0 0 Q0 0.8 3.0 0" fill="none" stroke="#000" stroke-width="1.69"/></g><g transform="translate(139.0 678.0) rotate(-8)"><ellipse rx="3.8" ry="3.0" fill="#fff" stroke="#000" stroke-width="1.30"/><path d="M-3.0 0 Q0 0.8 3.0 0" fill="none" stroke="#000" stroke-width="1.69"/></g><g transform="translate(145.4 677.7) rotate(-12)"><ellipse rx="3.8" ry="3.0" fill="#fff" stroke="#000" stroke-width="1.30"/><path d="M-3.0 0 Q0 0.8 3.0 0" fill="none" stroke="#000" stroke-width="1.69"/></g><g transform="translate(151.6 677.3) rotate(34)"><ellipse rx="3.8" ry="3.0" fill="#fff" stroke="#000" stroke-width="1.30"/><path d="M-3.0 0 Q0 0.8 3.0 0" fill="none" stroke="#000" stroke-width="1.69"/></g><g transform="translate(159.1 675.2) rotate(-2)"><ellipse rx="3.8" ry="3.0" fill="#fff" stroke="#000" stroke-width="1.30"/><path d="M-3.0 0 Q0 0.8 3.0 0" fill="none" stroke="#000" stroke-width="1.69"/></g><g transform="translate(166.2 674.0) rotate(4)"><ellipse rx="3.8" ry="3.0" fill="#fff" stroke="#000" stroke-width="1.30"/><path d="M-3.0 0 Q0 0.8 3.0 0" fill="none" stroke="#000" stroke-width="1.69"/></g><g transform="translate(172.7 671.8) rotate(25)"><ellipse rx="3.8" ry="3.0" fill="#fff" stroke="#000" stroke-width="1.30"/><path d="M-3.0 0 Q0 0.8 3.0 0" fill="none" stroke="#000" stroke-width="1.69"/></g><g transform="translate(179.4 670.4) rotate(32)"><ellipse rx="3.8" ry="3.0" fill="#fff" stroke="#000" stroke-width="1.30"/><path d="M-3.0 0 Q0 0.8 3.0 0" fill="none" stroke="#000" stroke-width="1.69"/></g><g transform="translate(185.0 669.8) rotate(-19)"><ellipse rx="3.8" ry="3.0" fill="#fff" stroke="#000" stroke-width="1.30"/><path d="M-3.0 0 Q0 0.8 3.0 0" fill="none" stroke="#000" stroke-width="1.69"/></g><g transform="translate(192.6 670.2) rotate(32)"><ellipse rx="3.8" ry="3.0" fill="#fff" stroke="#000" stroke-width="1.30"/><path d="M-3.0 0 Q0 0.8 3.0 0" fill="none" stroke="#000" stroke-width="1.69"/></g><g transform="translate(198.3 671.4) rotate(-22)"><ellipse rx="3.8" ry="3.0" fill="#fff" stroke="#000" stroke-width="1.30"/><path d="M-3.0 0 Q0 0.8 3.0 0" fill="none" stroke="#000" stroke-width="1.69"/></g><g transform="translate(204.9 672.3) rotate(14)"><ellipse rx="3.8" ry="3.0" fill="#fff" stroke="#000" stroke-width="1.30"/><path d="M-3.0 0 Q0 0.8 3.0 0" fill="none" stroke="#000" stroke-width="1.69"/></g><g transform="translate(212.9 676.0) rotate(-17)"><ellipse rx="3.8" ry="3.0" fill="#fff" stroke="#000" stroke-width="1.30"/><path d="M-3.0 0 Q0 0.8 3.0 0" fill="none" stroke="#000" stroke-width="1.69"/></g><g transform="translate(218.4 679.2) rotate(-5)"><ellipse rx="3.8" ry="3.0" fill="#fff" stroke="#000" stroke-width="1.30"/><path d="M-3.0 0 Q0 0.8 3.0 0" fill="none" stroke="#000" stroke-width="1.69"/></g><g transform="translate(141.5 683.9) rotate(-29)"><ellipse rx="3.8" ry="3.0" fill="#fff" stroke="#000" stroke-width="1.30"/><path d="M-3.0 0 Q0 0.8 3.0 0" fill="none" stroke="#000" stroke-width="1.69"/></g><g transform="translate(148.6 683.0) rotate(-10)"><ellipse rx="3.8" ry="3.0" fill="#fff" stroke="#000" stroke-width="1.30"/><path d="M-3.0 0 Q0 0.8 3.0 0" fill="none" stroke="#000" stroke-width="1.69"/></g><g transform="translate(156.0 681.0) rotate(-35)"><ellipse rx="3.8" ry="3.0" fill="#fff" stroke="#000" stroke-width="1.30"/><path d="M-3.0 0 Q0 0.8 3.0 0" fill="none" stroke="#000" stroke-width="1.69"/></g><g transform="translate(162.1 678.9) rotate(-1)"><ellipse rx="3.8" ry="3.0" fill="#fff" stroke="#000" stroke-width="1.30"/><path d="M-3.0 0 Q0 0.8 3.0 0" fill="none" stroke="#000" stroke-width="1.69"/></g><g transform="translate(169.1 677.0) rotate(32)"><ellipse rx="3.8" ry="3.0" fill="#fff" stroke="#000" stroke-width="1.30"/><path d="M-3.0 0 Q0 0.8 3.0 0" fill="none" stroke="#000" stroke-width="1.69"/></g><g transform="translate(175.7 675.8) rotate(-27)"><ellipse rx="3.8" ry="3.0" fill="#fff" stroke="#000" stroke-width="1.30"/><path d="M-3.0 0 Q0 0.8 3.0 0" fill="none" stroke="#000" stroke-width="1.69"/></g><g transform="translate(182.6 674.6) rotate(-27)"><ellipse rx="3.8" ry="3.0" fill="#fff" stroke="#000" stroke-width="1.30"/><path d="M-3.0 0 Q0 0.8 3.0 0" fill="none" stroke="#000" stroke-width="1.69"/></g><g transform="translate(189.7 675.2) rotate(-28)"><ellipse rx="3.8" ry="3.0" fill="#fff" stroke="#000" stroke-width="1.30"/><path d="M-3.0 0 Q0 0.8 3.0 0" fill="none" stroke="#000" stroke-width="1.69"/></g><g transform="translate(195.3 675.8) rotate(19)"><ellipse rx="3.8" ry="3.0" fill="#fff" stroke="#000" stroke-width="1.30"/><path d="M-3.0 0 Q0 0.8 3.0 0" fill="none" stroke="#000" stroke-width="1.69"/></g><g transform="translate(201.8 676.9) rotate(12)"><ellipse rx="3.8" ry="3.0" fill="#fff" stroke="#000" stroke-width="1.30"/><path d="M-3.0 0 Q0 0.8 3.0 0" fill="none" stroke="#000" stroke-width="1.69"/></g><g transform="translate(209.4 679.1) rotate(-16)"><ellipse rx="3.8" ry="3.0" fill="#fff" stroke="#000" stroke-width="1.30"/><path d="M-3.0 0 Q0 0.8 3.0 0" fill="none" stroke="#000" stroke-width="1.69"/></g><g transform="translate(216.4 682.2) rotate(12)"><ellipse rx="3.8" ry="3.0" fill="#fff" stroke="#000" stroke-width="1.30"/><path d="M-3.0 0 Q0 0.8 3.0 0" fill="none" stroke="#000" stroke-width="1.69"/></g></g><path d="M166.4 594 L166.4 644 M181.3 594.9 L181.3 648 M215.8 597 L215 637" fill="none" stroke="#000" stroke-width="1.60" stroke-linejoin="round" stroke-linecap="round"/><path d="M181.3 647 L181.3 652 L207 645 L207 640 Z" fill="#fff" fill="none" stroke="#000" stroke-width="1.12" stroke-linejoin="round" stroke-linecap="round"/><path d="M140.3 591.2 Q160 586 181.3 585 Q200 585.5 218 589 L219.8 596 Q219.8 600 214 600.5 Q190 601 166.7 602.2 Q145 601 139.1 598 Q138.5 594 140.3 591.2 Z" fill="#fff" fill="none" stroke="#000" stroke-width="1.60" stroke-linejoin="round" stroke-linecap="round"/><path d="M140.3 591.2 Q150 594 166.7 594.8 L181.3 594.9 Q205 593 218 589 M139.5 596 Q150 598.5 166.7 598.5 Q200 598 219.5 594.5 M166.7 594.8 L166.7 602 M181.3 594.9 L181.3 601.8" fill="none" stroke="#000" stroke-width="1.60" stroke-linejoin="round" stroke-linecap="round"/><path d="M217.3 633 L217.3 644 Q225 646 232.7 644 L232.7 633" fill="#fff" fill="none" stroke="#000" stroke-width="1.60" stroke-linejoin="round" stroke-linecap="round"/><ellipse cx="225" cy="633" rx="7.7" ry="2.2" fill="#fff" fill="none" stroke="#000" stroke-width="1.60" stroke-linejoin="round" stroke-linecap="round"/><path d="M217.3 638 Q225 640 232.7 638 M217.3 641 Q225 643 232.7 641" fill="none" stroke="#000" stroke-width="1.12" stroke-linejoin="round" stroke-linecap="round"/></g><circle cx="94.3" cy="692.2" r="9.6" fill="#000"/><text x="94.3" y="697.5" font-family="Liberation Sans" font-weight="bold" font-size="15.6" fill="#fff" stroke="#fff" stroke-width="0.5" text-anchor="middle">C</text><circle cx="271.2" cy="721.3" r="9.6" fill="#000"/><text x="271.2" y="726.6" font-family="Liberation Sans" font-weight="bold" font-size="15.6" fill="#fff" stroke="#fff" stroke-width="0.5" text-anchor="middle">D</text><rect x="61.1" y="703" width="20.6" height="36" fill="#fff" stroke="#000" stroke-width="1.3"/><path d="M66 706.2 Q71 705.3 76 706.2 Q78.3 707.0 78.3 709.5 L78.3 715.5 Q78.3 718.0 76 718.8 Q71 719.7 66 718.8 Q64 718.0 64 715.5 L64 709.5 Q64 707.0 66 706.2 Z" fill="#fff" stroke="#000" stroke-width="1.5"/><path d="M68.8 708.0 v4.5 M73.2 708.0 v4.5" stroke="#000" stroke-width="1.8"/><circle cx="71" cy="716.1" r="0.9" fill="#000"/><path d="M66 723.2 Q71 722.3 76 723.2 Q78.3 724.0 78.3 726.5 L78.3 732.5 Q78.3 735.0 76 735.8 Q71 736.7 66 735.8 Q64 735.0 64 732.5 L64 726.5 Q64 724.0 66 723.2 Z" fill="#fff" stroke="#000" stroke-width="1.5"/><path d="M68.8 725.0 v4.5 M73.2 725.0 v4.5" stroke="#000" stroke-width="1.8"/><circle cx="71" cy="733.1" r="0.9" fill="#000"/><path d="M86 726.5 h5 M86 732 h5" stroke="#000" stroke-width="1.6"/><rect x="90.5" y="724.5" width="6" height="10" rx="1" fill="#fff" stroke="#000" stroke-width="1.6"/><path d="M96.5 727 L101 728 L101 731 L96.5 732" fill="#fff" stroke="#000" stroke-width="1.4"/><path d="M101 729.5 Q116 728 120 737 Q123 750 133 752 L139 752" fill="none" stroke="#000" stroke-width="3.8"/><path d="M101 729.5 Q116 728 120 737 Q123 750 133 752 L139 752" fill="none" stroke="#fff" stroke-width="1.4"/><path d="M75.9 972.9 L105.2 984.6" fill="none" stroke="#000" stroke-width="3.2"/><path d="M75.9 972.9 L105.2 984.6" fill="none" stroke="#fff" stroke-width="1.4"/><g transform="translate(-23.9 303.4) scale(0.920)"><path d="M203 664 L232.3 657 L232.3 705 M203.7 664 L203.7 705" fill="none" stroke="#000" stroke-width="1.14" stroke-linejoin="round" stroke-linecap="round"/><path d="M140.4 654 L140.4 749.2 M196.7 663 L196.7 759.6 M201 663 L201 758" fill="none" stroke="#000" stroke-width="1.14" stroke-linejoin="round" stroke-linecap="round"/><path d="M143.2 655 L143.2 750.5" fill="none" stroke="#000" stroke-width="0.80" stroke-linejoin="round" stroke-linecap="round"/><path d="M147.0 655 L147.0 750.5" fill="none" stroke="#000" stroke-width="0.80" stroke-linejoin="round" stroke-linecap="round"/><path d="M151.2 655 L151.2 750.5" fill="none" stroke="#000" stroke-width="0.80" stroke-linejoin="round" stroke-linecap="round"/><path d="M155.6 655 L155.6 750.5" fill="none" stroke="#000" stroke-width="0.80" stroke-linejoin="round" stroke-linecap="round"/><path d="M167.0 659 L167.0 755" fill="none" stroke="#000" stroke-width="0.80" stroke-linejoin="round" stroke-linecap="round"/><path d="M171.4 659 L171.4 755" fill="none" stroke="#000" stroke-width="0.80" stroke-linejoin="round" stroke-linecap="round"/><path d="M176.0 659 L176.0 755" fill="none" stroke="#000" stroke-width="0.80" stroke-linejoin="round" stroke-linecap="round"/><path d="M180.6 659 L180.6 755" fill="none" stroke="#000" stroke-width="0.80" stroke-linejoin="round" stroke-linecap="round"/><path d="M203.7 700 L203.7 757 M220.1 700 L220.1 757 M232.3 690 L232.3 757" fill="none" stroke="#000" stroke-width="1.14" stroke-linejoin="round" stroke-linecap="round"/><path d="M138.7 747.3 Q138.7 760 146 762 L178.5 776 L190.7 776.8 L235.7 785.5 L253.9 783.7 L253.9 764.7 Q250 758 240 757 L203 755 L178.5 761.2 Z" fill="#fff" fill="none" stroke="#000" stroke-width="1.14" stroke-linejoin="round" stroke-linecap="round"/><path d="M178.5 761.2 L178.5 776 M190.7 762 L190.7 776.8 M190.7 762 L235.7 769 L253.9 764.7 M235.7 769 L235.7 785.5" fill="none" stroke="#000" stroke-width="1.14" stroke-linejoin="round" stroke-linecap="round"/><path d="M140.4 740 Q141 748 150 751 L196.7 759.6 L203 757" fill="none" stroke="#000" stroke-width="1.14" stroke-linejoin="round" stroke-linecap="round"/><rect x="241.8" y="771.6" width="9.5" height="8" fill="#fff" fill="none" stroke="#000" stroke-width="1.14" stroke-linejoin="round" stroke-linecap="round"/><rect x="243.8" y="774" width="5.5" height="3.2" fill="#000"/><path d="M145 766 Q145 769.5 147.3 769.5 Q149.6 769.5 149.6 767 M217.5 785 Q217.5 789 220 789 Q222.5 789 222.5 785.8" fill="#fff" fill="none" stroke="#000" stroke-width="1.14" stroke-linejoin="round" stroke-linecap="round"/><ellipse cx="226.5" cy="761.4" rx="23.4" ry="8.2" fill="#fff" fill="none" stroke="#000" stroke-width="1.14" stroke-linejoin="round" stroke-linecap="round"/><ellipse cx="226.5" cy="763" rx="19.5" ry="6.2" fill="none" fill="none" stroke="#000" stroke-width="0.80" stroke-linejoin="round" stroke-linecap="round"/><path d="M140.4 643.5 L140.4 653 Q141 658 148 659.5 L190 664 Q196 664.5 203 663 L232.3 656 L232.3 643 Z" fill="#fff" fill="none" stroke="#000" stroke-width="1.14" stroke-linejoin="round" stroke-linecap="round"/><path d="M140.4 643.5 L181.3 650 L232.7 642.5" fill="none" stroke="#000" stroke-width="1.14" stroke-linejoin="round" stroke-linecap="round"/><path d="M204 667 Q201.5 657 210.5 655.3 Q218.5 654.5 222.5 660.5 L234.5 680 Q236.6 684 236.6 690 L236.6 699 Q228 703 220.1 700.7 L220.1 689 Q220.1 684.5 217 680.5 Z" fill="#fff" fill="none" stroke="#000" stroke-width="1.14" stroke-linejoin="round" stroke-linecap="round"/><clipPath id="hc5"><path d="M139.1 597.8 L142 641 L181.3 648 L218 636.7 L219 596 Z"/></clipPath><path d="M139.1 597.8 L142 641 L181.3 648 L218 636.7 L219 596" fill="#fff" fill="none" stroke="#000" stroke-width="1.14" stroke-linejoin="round" stroke-linecap="round"/><g clip-path="url(#hc5)"><path d="M141.0 633.0 L142.9 632.8 L144.9 632.6 L146.8 632.2 L148.8 631.9 L150.8 631.5 L152.7 631.0 L154.7 630.6 L156.6 630.1 L158.6 629.6 L160.5 629.1 L162.4 628.6 L164.4 628.1 L166.3 627.5 L168.3 627.0 L170.2 626.6 L172.2 626.1 L174.2 625.7 L176.1 625.3 L178.1 624.9 L180.0 624.6 L181.9 624.4 L183.9 624.2 L185.8 624.1 L187.8 624.0 L189.8 624.0 L191.7 624.1 L193.7 624.3 L195.6 624.5 L197.6 624.8 L199.5 625.2 L201.4 625.7 L203.4 626.3 L205.3 626.9 L207.3 627.6 L209.2 628.4 L211.2 629.2 L213.2 630.1 L215.1 631.1 L217.1 632.0 L219.0 633.0 L219.0 652.0 L141.0 652.0 Z" fill="#000"/><g transform="translate(139.5 630.7) rotate(21)"><ellipse rx="4.1" ry="3.3" fill="#fff" stroke="#000" stroke-width="0.95"/><path d="M-3.3 0 Q0 0.8 3.3 0" fill="none" stroke="#000" stroke-width="1.23"/></g><g transform="translate(146.7 630.6) rotate(30)"><ellipse rx="4.1" ry="3.3" fill="#fff" stroke="#000" stroke-width="0.95"/><path d="M-3.3 0 Q0 0.8 3.3 0" fill="none" stroke="#000" stroke-width="1.23"/></g><g transform="translate(153.3 627.6) rotate(31)"><ellipse rx="4.1" ry="3.3" fill="#fff" stroke="#000" stroke-width="0.95"/><path d="M-3.3 0 Q0 0.8 3.3 0" fill="none" stroke="#000" stroke-width="1.23"/></g><g transform="translate(161.3 626.8) rotate(-27)"><ellipse rx="4.1" ry="3.3" fill="#fff" stroke="#000" stroke-width="0.95"/><path d="M-3.3 0 Q0 0.8 3.3 0" fill="none" stroke="#000" stroke-width="1.23"/></g><g transform="translate(167.2 624.6) rotate(3)"><ellipse rx="4.1" ry="3.3" fill="#fff" stroke="#000" stroke-width="0.95"/><path d="M-3.3 0 Q0 0.8 3.3 0" fill="none" stroke="#000" stroke-width="1.23"/></g><g transform="translate(173.9 623.2) rotate(-20)"><ellipse rx="4.1" ry="3.3" fill="#fff" stroke="#000" stroke-width="0.95"/><path d="M-3.3 0 Q0 0.8 3.3 0" fill="none" stroke="#000" stroke-width="1.23"/></g><g transform="translate(182.9 621.5) rotate(19)"><ellipse rx="4.1" ry="3.3" fill="#fff" stroke="#000" stroke-width="0.95"/><path d="M-3.3 0 Q0 0.8 3.3 0" fill="none" stroke="#000" stroke-width="1.23"/></g><g transform="translate(189.8 621.0) rotate(-25)"><ellipse rx="4.1" ry="3.3" fill="#fff" stroke="#000" stroke-width="0.95"/><path d="M-3.3 0 Q0 0.8 3.3 0" fill="none" stroke="#000" stroke-width="1.23"/></g><g transform="translate(195.7 622.3) rotate(-35)"><ellipse rx="4.1" ry="3.3" fill="#fff" stroke="#000" stroke-width="0.95"/><path d="M-3.3 0 Q0 0.8 3.3 0" fill="none" stroke="#000" stroke-width="1.23"/></g><g transform="translate(203.0 624.4) rotate(-20)"><ellipse rx="4.1" ry="3.3" fill="#fff" stroke="#000" stroke-width="0.95"/><path d="M-3.3 0 Q0 0.8 3.3 0" fill="none" stroke="#000" stroke-width="1.23"/></g><g transform="translate(211.5 627.3) rotate(-15)"><ellipse rx="4.1" ry="3.3" fill="#fff" stroke="#000" stroke-width="0.95"/><path d="M-3.3 0 Q0 0.8 3.3 0" fill="none" stroke="#000" stroke-width="1.23"/></g><g transform="translate(218.0 630.7) rotate(12)"><ellipse rx="4.1" ry="3.3" fill="#fff" stroke="#000" stroke-width="0.95"/><path d="M-3.3 0 Q0 0.8 3.3 0" fill="none" stroke="#000" stroke-width="1.23"/></g><g transform="translate(143.5 635.1) rotate(13)"><ellipse rx="4.1" ry="3.3" fill="#fff" stroke="#000" stroke-width="0.95"/><path d="M-3.3 0 Q0 0.8 3.3 0" fill="none" stroke="#000" stroke-width="1.23"/></g><g transform="translate(150.5 635.1) rotate(-14)"><ellipse rx="4.1" ry="3.3" fill="#fff" stroke="#000" stroke-width="0.95"/><path d="M-3.3 0 Q0 0.8 3.3 0" fill="none" stroke="#000" stroke-width="1.23"/></g><g transform="translate(156.3 632.5) rotate(-25)"><ellipse rx="4.1" ry="3.3" fill="#fff" stroke="#000" stroke-width="0.95"/><path d="M-3.3 0 Q0 0.8 3.3 0" fill="none" stroke="#000" stroke-width="1.23"/></g><g transform="translate(163.7 630.1) rotate(7)"><ellipse rx="4.1" ry="3.3" fill="#fff" stroke="#000" stroke-width="0.95"/><path d="M-3.3 0 Q0 0.8 3.3 0" fill="none" stroke="#000" stroke-width="1.23"/></g><g transform="translate(171.6 628.2) rotate(-11)"><ellipse rx="4.1" ry="3.3" fill="#fff" stroke="#000" stroke-width="0.95"/><path d="M-3.3 0 Q0 0.8 3.3 0" fill="none" stroke="#000" stroke-width="1.23"/></g><g transform="translate(179.1 627.3) rotate(-1)"><ellipse rx="4.1" ry="3.3" fill="#fff" stroke="#000" stroke-width="0.95"/><path d="M-3.3 0 Q0 0.8 3.3 0" fill="none" stroke="#000" stroke-width="1.23"/></g><g transform="translate(185.6 626.5) rotate(14)"><ellipse rx="4.1" ry="3.3" fill="#fff" stroke="#000" stroke-width="0.95"/><path d="M-3.3 0 Q0 0.8 3.3 0" fill="none" stroke="#000" stroke-width="1.23"/></g><g transform="translate(193.8 626.2) rotate(-33)"><ellipse rx="4.1" ry="3.3" fill="#fff" stroke="#000" stroke-width="0.95"/><path d="M-3.3 0 Q0 0.8 3.3 0" fill="none" stroke="#000" stroke-width="1.23"/></g><g transform="translate(200.7 628.5) rotate(-34)"><ellipse rx="4.1" ry="3.3" fill="#fff" stroke="#000" stroke-width="0.95"/><path d="M-3.3 0 Q0 0.8 3.3 0" fill="none" stroke="#000" stroke-width="1.23"/></g><g transform="translate(206.9 630.7) rotate(5)"><ellipse rx="4.1" ry="3.3" fill="#fff" stroke="#000" stroke-width="0.95"/><path d="M-3.3 0 Q0 0.8 3.3 0" fill="none" stroke="#000" stroke-width="1.23"/></g><g transform="translate(213.4 632.6) rotate(-22)"><ellipse rx="4.1" ry="3.3" fill="#fff" stroke="#000" stroke-width="0.95"/><path d="M-3.3 0 Q0 0.8 3.3 0" fill="none" stroke="#000" stroke-width="1.23"/></g><g transform="translate(220.9 636.4) rotate(18)"><ellipse rx="4.1" ry="3.3" fill="#fff" stroke="#000" stroke-width="0.95"/><path d="M-3.3 0 Q0 0.8 3.3 0" fill="none" stroke="#000" stroke-width="1.23"/></g><g transform="translate(139.9 641.6) rotate(-11)"><ellipse rx="4.1" ry="3.3" fill="#fff" stroke="#000" stroke-width="0.95"/><path d="M-3.3 0 Q0 0.8 3.3 0" fill="none" stroke="#000" stroke-width="1.23"/></g><g transform="translate(146.2 640.0) rotate(19)"><ellipse rx="4.1" ry="3.3" fill="#fff" stroke="#000" stroke-width="0.95"/><path d="M-3.3 0 Q0 0.8 3.3 0" fill="none" stroke="#000" stroke-width="1.23"/></g><g transform="translate(153.8 638.2) rotate(21)"><ellipse rx="4.1" ry="3.3" fill="#fff" stroke="#000" stroke-width="0.95"/><path d="M-3.3 0 Q0 0.8 3.3 0" fill="none" stroke="#000" stroke-width="1.23"/></g><g transform="translate(159.6 637.6) rotate(31)"><ellipse rx="4.1" ry="3.3" fill="#fff" stroke="#000" stroke-width="0.95"/><path d="M-3.3 0 Q0 0.8 3.3 0" fill="none" stroke="#000" stroke-width="1.23"/></g><g transform="translate(167.4 634.5) rotate(8)"><ellipse rx="4.1" ry="3.3" fill="#fff" stroke="#000" stroke-width="0.95"/><path d="M-3.3 0 Q0 0.8 3.3 0" fill="none" stroke="#000" stroke-width="1.23"/></g><g transform="translate(174.6 634.1) rotate(30)"><ellipse rx="4.1" ry="3.3" fill="#fff" stroke="#000" stroke-width="0.95"/><path d="M-3.3 0 Q0 0.8 3.3 0" fill="none" stroke="#000" stroke-width="1.23"/></g><g transform="translate(181.7 632.4) rotate(-13)"><ellipse rx="4.1" ry="3.3" fill="#fff" stroke="#000" stroke-width="0.95"/><path d="M-3.3 0 Q0 0.8 3.3 0" fill="none" stroke="#000" stroke-width="1.23"/></g><g transform="translate(188.4 631.4) rotate(-25)"><ellipse rx="4.1" ry="3.3" fill="#fff" stroke="#000" stroke-width="0.95"/><path d="M-3.3 0 Q0 0.8 3.3 0" fill="none" stroke="#000" stroke-width="1.23"/></g><g transform="translate(197.4 632.8) rotate(-24)"><ellipse rx="4.1" ry="3.3" fill="#fff" stroke="#000" stroke-width="0.95"/><path d="M-3.3 0 Q0 0.8 3.3 0" fill="none" stroke="#000" stroke-width="1.23"/></g><g transform="translate(204.5 633.5) rotate(2)"><ellipse rx="4.1" ry="3.3" fill="#fff" stroke="#000" stroke-width="0.95"/><path d="M-3.3 0 Q0 0.8 3.3 0" fill="none" stroke="#000" stroke-width="1.23"/></g><g transform="translate(210.2 636.8) rotate(7)"><ellipse rx="4.1" ry="3.3" fill="#fff" stroke="#000" stroke-width="0.95"/><path d="M-3.3 0 Q0 0.8 3.3 0" fill="none" stroke="#000" stroke-width="1.23"/></g><g transform="translate(217.8 640.9) rotate(-5)"><ellipse rx="4.1" ry="3.3" fill="#fff" stroke="#000" stroke-width="0.95"/><path d="M-3.3 0 Q0 0.8 3.3 0" fill="none" stroke="#000" stroke-width="1.23"/></g><g transform="translate(143.4 645.3) rotate(-33)"><ellipse rx="4.1" ry="3.3" fill="#fff" stroke="#000" stroke-width="0.95"/><path d="M-3.3 0 Q0 0.8 3.3 0" fill="none" stroke="#000" stroke-width="1.23"/></g><g transform="translate(150.4 644.8) rotate(-26)"><ellipse rx="4.1" ry="3.3" fill="#fff" stroke="#000" stroke-width="0.95"/><path d="M-3.3 0 Q0 0.8 3.3 0" fill="none" stroke="#000" stroke-width="1.23"/></g><g transform="translate(157.8 643.5) rotate(9)"><ellipse rx="4.1" ry="3.3" fill="#fff" stroke="#000" stroke-width="0.95"/><path d="M-3.3 0 Q0 0.8 3.3 0" fill="none" stroke="#000" stroke-width="1.23"/></g><g transform="translate(163.3 641.7) rotate(-5)"><ellipse rx="4.1" ry="3.3" fill="#fff" stroke="#000" stroke-width="0.95"/><path d="M-3.3 0 Q0 0.8 3.3 0" fill="none" stroke="#000" stroke-width="1.23"/></g><g transform="translate(172.0 638.9) rotate(-14)"><ellipse rx="4.1" ry="3.3" fill="#fff" stroke="#000" stroke-width="0.95"/><path d="M-3.3 0 Q0 0.8 3.3 0" fill="none" stroke="#000" stroke-width="1.23"/></g><g transform="translate(179.5 637.9) rotate(25)"><ellipse rx="4.1" ry="3.3" fill="#fff" stroke="#000" stroke-width="0.95"/><path d="M-3.3 0 Q0 0.8 3.3 0" fill="none" stroke="#000" stroke-width="1.23"/></g><g transform="translate(185.5 638.0) rotate(-1)"><ellipse rx="4.1" ry="3.3" fill="#fff" stroke="#000" stroke-width="0.95"/><path d="M-3.3 0 Q0 0.8 3.3 0" fill="none" stroke="#000" stroke-width="1.23"/></g><g transform="translate(192.8 637.7) rotate(-15)"><ellipse rx="4.1" ry="3.3" fill="#fff" stroke="#000" stroke-width="0.95"/><path d="M-3.3 0 Q0 0.8 3.3 0" fill="none" stroke="#000" stroke-width="1.23"/></g><g transform="translate(199.3 638.3) rotate(-9)"><ellipse rx="4.1" ry="3.3" fill="#fff" stroke="#000" stroke-width="0.95"/><path d="M-3.3 0 Q0 0.8 3.3 0" fill="none" stroke="#000" stroke-width="1.23"/></g><g transform="translate(208.1 641.5) rotate(9)"><ellipse rx="4.1" ry="3.3" fill="#fff" stroke="#000" stroke-width="0.95"/><path d="M-3.3 0 Q0 0.8 3.3 0" fill="none" stroke="#000" stroke-width="1.23"/></g><g transform="translate(214.0 643.8) rotate(-29)"><ellipse rx="4.1" ry="3.3" fill="#fff" stroke="#000" stroke-width="0.95"/><path d="M-3.3 0 Q0 0.8 3.3 0" fill="none" stroke="#000" stroke-width="1.23"/></g><g transform="translate(222.1 645.8) rotate(26)"><ellipse rx="4.1" ry="3.3" fill="#fff" stroke="#000" stroke-width="0.95"/><path d="M-3.3 0 Q0 0.8 3.3 0" fill="none" stroke="#000" stroke-width="1.23"/></g><g transform="translate(139.6 651.1) rotate(19)"><ellipse rx="4.1" ry="3.3" fill="#fff" stroke="#000" stroke-width="0.95"/><path d="M-3.3 0 Q0 0.8 3.3 0" fill="none" stroke="#000" stroke-width="1.23"/></g><g transform="translate(146.5 651.0) rotate(18)"><ellipse rx="4.1" ry="3.3" fill="#fff" stroke="#000" stroke-width="0.95"/><path d="M-3.3 0 Q0 0.8 3.3 0" fill="none" stroke="#000" stroke-width="1.23"/></g><g transform="translate(153.8 649.0) rotate(-15)"><ellipse rx="4.1" ry="3.3" fill="#fff" stroke="#000" stroke-width="0.95"/><path d="M-3.3 0 Q0 0.8 3.3 0" fill="none" stroke="#000" stroke-width="1.23"/></g><g transform="translate(161.1 647.4) rotate(13)"><ellipse rx="4.1" ry="3.3" fill="#fff" stroke="#000" stroke-width="0.95"/><path d="M-3.3 0 Q0 0.8 3.3 0" fill="none" stroke="#000" stroke-width="1.23"/></g><g transform="translate(168.6 645.2) rotate(10)"><ellipse rx="4.1" ry="3.3" fill="#fff" stroke="#000" stroke-width="0.95"/><path d="M-3.3 0 Q0 0.8 3.3 0" fill="none" stroke="#000" stroke-width="1.23"/></g><g transform="translate(173.9 644.0) rotate(3)"><ellipse rx="4.1" ry="3.3" fill="#fff" stroke="#000" stroke-width="0.95"/><path d="M-3.3 0 Q0 0.8 3.3 0" fill="none" stroke="#000" stroke-width="1.23"/></g><g transform="translate(182.4 642.3) rotate(-3)"><ellipse rx="4.1" ry="3.3" fill="#fff" stroke="#000" stroke-width="0.95"/><path d="M-3.3 0 Q0 0.8 3.3 0" fill="none" stroke="#000" stroke-width="1.23"/></g><g transform="translate(189.5 642.8) rotate(21)"><ellipse rx="4.1" ry="3.3" fill="#fff" stroke="#000" stroke-width="0.95"/><path d="M-3.3 0 Q0 0.8 3.3 0" fill="none" stroke="#000" stroke-width="1.23"/></g><g transform="translate(196.7 642.7) rotate(17)"><ellipse rx="4.1" ry="3.3" fill="#fff" stroke="#000" stroke-width="0.95"/><path d="M-3.3 0 Q0 0.8 3.3 0" fill="none" stroke="#000" stroke-width="1.23"/></g><g transform="translate(203.3 645.2) rotate(24)"><ellipse rx="4.1" ry="3.3" fill="#fff" stroke="#000" stroke-width="0.95"/><path d="M-3.3 0 Q0 0.8 3.3 0" fill="none" stroke="#000" stroke-width="1.23"/></g><g transform="translate(211.1 648.0) rotate(33)"><ellipse rx="4.1" ry="3.3" fill="#fff" stroke="#000" stroke-width="0.95"/><path d="M-3.3 0 Q0 0.8 3.3 0" fill="none" stroke="#000" stroke-width="1.23"/></g><g transform="translate(218.0 651.5) rotate(2)"><ellipse rx="4.1" ry="3.3" fill="#fff" stroke="#000" stroke-width="0.95"/><path d="M-3.3 0 Q0 0.8 3.3 0" fill="none" stroke="#000" stroke-width="1.23"/></g><g transform="translate(143.3 655.9) rotate(31)"><ellipse rx="4.1" ry="3.3" fill="#fff" stroke="#000" stroke-width="0.95"/><path d="M-3.3 0 Q0 0.8 3.3 0" fill="none" stroke="#000" stroke-width="1.23"/></g><g transform="translate(150.1 655.2) rotate(15)"><ellipse rx="4.1" ry="3.3" fill="#fff" stroke="#000" stroke-width="0.95"/><path d="M-3.3 0 Q0 0.8 3.3 0" fill="none" stroke="#000" stroke-width="1.23"/></g><g transform="translate(156.3 653.9) rotate(20)"><ellipse rx="4.1" ry="3.3" fill="#fff" stroke="#000" stroke-width="0.95"/><path d="M-3.3 0 Q0 0.8 3.3 0" fill="none" stroke="#000" stroke-width="1.23"/></g><g transform="translate(164.4 651.8) rotate(-6)"><ellipse rx="4.1" ry="3.3" fill="#fff" stroke="#000" stroke-width="0.95"/><path d="M-3.3 0 Q0 0.8 3.3 0" fill="none" stroke="#000" stroke-width="1.23"/></g><g transform="translate(171.8 650.1) rotate(10)"><ellipse rx="4.1" ry="3.3" fill="#fff" stroke="#000" stroke-width="0.95"/><path d="M-3.3 0 Q0 0.8 3.3 0" fill="none" stroke="#000" stroke-width="1.23"/></g><g transform="translate(177.5 648.8) rotate(-24)"><ellipse rx="4.1" ry="3.3" fill="#fff" stroke="#000" stroke-width="0.95"/><path d="M-3.3 0 Q0 0.8 3.3 0" fill="none" stroke="#000" stroke-width="1.23"/></g><g transform="translate(185.9 647.5) rotate(-20)"><ellipse rx="4.1" ry="3.3" fill="#fff" stroke="#000" stroke-width="0.95"/><path d="M-3.3 0 Q0 0.8 3.3 0" fill="none" stroke="#000" stroke-width="1.23"/></g><g transform="translate(193.1 648.0) rotate(-32)"><ellipse rx="4.1" ry="3.3" fill="#fff" stroke="#000" stroke-width="0.95"/><path d="M-3.3 0 Q0 0.8 3.3 0" fill="none" stroke="#000" stroke-width="1.23"/></g><g transform="translate(199.4 648.8) rotate(-31)"><ellipse rx="4.1" ry="3.3" fill="#fff" stroke="#000" stroke-width="0.95"/><path d="M-3.3 0 Q0 0.8 3.3 0" fill="none" stroke="#000" stroke-width="1.23"/></g><g transform="translate(206.8 650.5) rotate(-22)"><ellipse rx="4.1" ry="3.3" fill="#fff" stroke="#000" stroke-width="0.95"/><path d="M-3.3 0 Q0 0.8 3.3 0" fill="none" stroke="#000" stroke-width="1.23"/></g><g transform="translate(213.4 653.7) rotate(-2)"><ellipse rx="4.1" ry="3.3" fill="#fff" stroke="#000" stroke-width="0.95"/><path d="M-3.3 0 Q0 0.8 3.3 0" fill="none" stroke="#000" stroke-width="1.23"/></g><g transform="translate(221.7 656.3) rotate(6)"><ellipse rx="4.1" ry="3.3" fill="#fff" stroke="#000" stroke-width="0.95"/><path d="M-3.3 0 Q0 0.8 3.3 0" fill="none" stroke="#000" stroke-width="1.23"/></g><g transform="translate(139.8 661.3) rotate(-35)"><ellipse rx="4.1" ry="3.3" fill="#fff" stroke="#000" stroke-width="0.95"/><path d="M-3.3 0 Q0 0.8 3.3 0" fill="none" stroke="#000" stroke-width="1.23"/></g><g transform="translate(145.7 661.0) rotate(-6)"><ellipse rx="4.1" ry="3.3" fill="#fff" stroke="#000" stroke-width="0.95"/><path d="M-3.3 0 Q0 0.8 3.3 0" fill="none" stroke="#000" stroke-width="1.23"/></g><g transform="translate(154.0 659.0) rotate(-9)"><ellipse rx="4.1" ry="3.3" fill="#fff" stroke="#000" stroke-width="0.95"/><path d="M-3.3 0 Q0 0.8 3.3 0" fill="none" stroke="#000" stroke-width="1.23"/></g><g transform="translate(160.8 657.1) rotate(-28)"><ellipse rx="4.1" ry="3.3" fill="#fff" stroke="#000" stroke-width="0.95"/><path d="M-3.3 0 Q0 0.8 3.3 0" fill="none" stroke="#000" stroke-width="1.23"/></g><g transform="translate(167.4 656.0) rotate(6)"><ellipse rx="4.1" ry="3.3" fill="#fff" stroke="#000" stroke-width="0.95"/><path d="M-3.3 0 Q0 0.8 3.3 0" fill="none" stroke="#000" stroke-width="1.23"/></g><g transform="translate(175.5 655.0) rotate(-6)"><ellipse rx="4.1" ry="3.3" fill="#fff" stroke="#000" stroke-width="0.95"/><path d="M-3.3 0 Q0 0.8 3.3 0" fill="none" stroke="#000" stroke-width="1.23"/></g><g transform="translate(182.3 653.6) rotate(-9)"><ellipse rx="4.1" ry="3.3" fill="#fff" stroke="#000" stroke-width="0.95"/><path d="M-3.3 0 Q0 0.8 3.3 0" fill="none" stroke="#000" stroke-width="1.23"/></g><g transform="translate(189.4 652.2) rotate(4)"><ellipse rx="4.1" ry="3.3" fill="#fff" stroke="#000" stroke-width="0.95"/><path d="M-3.3 0 Q0 0.8 3.3 0" fill="none" stroke="#000" stroke-width="1.23"/></g><g transform="translate(197.3 654.1) rotate(8)"><ellipse rx="4.1" ry="3.3" fill="#fff" stroke="#000" stroke-width="0.95"/><path d="M-3.3 0 Q0 0.8 3.3 0" fill="none" stroke="#000" stroke-width="1.23"/></g><g transform="translate(204.4 654.8) rotate(-35)"><ellipse rx="4.1" ry="3.3" fill="#fff" stroke="#000" stroke-width="0.95"/><path d="M-3.3 0 Q0 0.8 3.3 0" fill="none" stroke="#000" stroke-width="1.23"/></g><g transform="translate(210.9 657.2) rotate(8)"><ellipse rx="4.1" ry="3.3" fill="#fff" stroke="#000" stroke-width="0.95"/><path d="M-3.3 0 Q0 0.8 3.3 0" fill="none" stroke="#000" stroke-width="1.23"/></g><g transform="translate(218.2 660.6) rotate(27)"><ellipse rx="4.1" ry="3.3" fill="#fff" stroke="#000" stroke-width="0.95"/><path d="M-3.3 0 Q0 0.8 3.3 0" fill="none" stroke="#000" stroke-width="1.23"/></g><g transform="translate(142.5 666.6) rotate(-19)"><ellipse rx="4.1" ry="3.3" fill="#fff" stroke="#000" stroke-width="0.95"/><path d="M-3.3 0 Q0 0.8 3.3 0" fill="none" stroke="#000" stroke-width="1.23"/></g><g transform="translate(150.7 665.3) rotate(-8)"><ellipse rx="4.1" ry="3.3" fill="#fff" stroke="#000" stroke-width="0.95"/><path d="M-3.3 0 Q0 0.8 3.3 0" fill="none" stroke="#000" stroke-width="1.23"/></g><g transform="translate(157.8 664.7) rotate(7)"><ellipse rx="4.1" ry="3.3" fill="#fff" stroke="#000" stroke-width="0.95"/><path d="M-3.3 0 Q0 0.8 3.3 0" fill="none" stroke="#000" stroke-width="1.23"/></g><g transform="translate(165.1 661.7) rotate(-0)"><ellipse rx="4.1" ry="3.3" fill="#fff" stroke="#000" stroke-width="0.95"/><path d="M-3.3 0 Q0 0.8 3.3 0" fill="none" stroke="#000" stroke-width="1.23"/></g><g transform="translate(170.9 660.1) rotate(34)"><ellipse rx="4.1" ry="3.3" fill="#fff" stroke="#000" stroke-width="0.95"/><path d="M-3.3 0 Q0 0.8 3.3 0" fill="none" stroke="#000" stroke-width="1.23"/></g><g transform="translate(178.0 658.8) rotate(-2)"><ellipse rx="4.1" ry="3.3" fill="#fff" stroke="#000" stroke-width="0.95"/><path d="M-3.3 0 Q0 0.8 3.3 0" fill="none" stroke="#000" stroke-width="1.23"/></g><g transform="translate(185.9 657.4) rotate(-4)"><ellipse rx="4.1" ry="3.3" fill="#fff" stroke="#000" stroke-width="0.95"/><path d="M-3.3 0 Q0 0.8 3.3 0" fill="none" stroke="#000" stroke-width="1.23"/></g><g transform="translate(193.4 657.8) rotate(23)"><ellipse rx="4.1" ry="3.3" fill="#fff" stroke="#000" stroke-width="0.95"/><path d="M-3.3 0 Q0 0.8 3.3 0" fill="none" stroke="#000" stroke-width="1.23"/></g><g transform="translate(200.1 658.5) rotate(-16)"><ellipse rx="4.1" ry="3.3" fill="#fff" stroke="#000" stroke-width="0.95"/><path d="M-3.3 0 Q0 0.8 3.3 0" fill="none" stroke="#000" stroke-width="1.23"/></g><g transform="translate(207.7 662.2) rotate(-18)"><ellipse rx="4.1" ry="3.3" fill="#fff" stroke="#000" stroke-width="0.95"/><path d="M-3.3 0 Q0 0.8 3.3 0" fill="none" stroke="#000" stroke-width="1.23"/></g><g transform="translate(213.6 664.3) rotate(34)"><ellipse rx="4.1" ry="3.3" fill="#fff" stroke="#000" stroke-width="0.95"/><path d="M-3.3 0 Q0 0.8 3.3 0" fill="none" stroke="#000" stroke-width="1.23"/></g><g transform="translate(221.7 666.6) rotate(-2)"><ellipse rx="4.1" ry="3.3" fill="#fff" stroke="#000" stroke-width="0.95"/><path d="M-3.3 0 Q0 0.8 3.3 0" fill="none" stroke="#000" stroke-width="1.23"/></g><g transform="translate(139.2 672.4) rotate(17)"><ellipse rx="4.1" ry="3.3" fill="#fff" stroke="#000" stroke-width="0.95"/><path d="M-3.3 0 Q0 0.8 3.3 0" fill="none" stroke="#000" stroke-width="1.23"/></g><g transform="translate(146.7 670.9) rotate(-14)"><ellipse rx="4.1" ry="3.3" fill="#fff" stroke="#000" stroke-width="0.95"/><path d="M-3.3 0 Q0 0.8 3.3 0" fill="none" stroke="#000" stroke-width="1.23"/></g><g transform="translate(153.0 670.1) rotate(-14)"><ellipse rx="4.1" ry="3.3" fill="#fff" stroke="#000" stroke-width="0.95"/><path d="M-3.3 0 Q0 0.8 3.3 0" fill="none" stroke="#000" stroke-width="1.23"/></g><g transform="translate(160.5 668.3) rotate(-10)"><ellipse rx="4.1" ry="3.3" fill="#fff" stroke="#000" stroke-width="0.95"/><path d="M-3.3 0 Q0 0.8 3.3 0" fill="none" stroke="#000" stroke-width="1.23"/></g><g transform="translate(167.9 666.7) rotate(-32)"><ellipse rx="4.1" ry="3.3" fill="#fff" stroke="#000" stroke-width="0.95"/><path d="M-3.3 0 Q0 0.8 3.3 0" fill="none" stroke="#000" stroke-width="1.23"/></g><g transform="translate(174.8 664.3) rotate(29)"><ellipse rx="4.1" ry="3.3" fill="#fff" stroke="#000" stroke-width="0.95"/><path d="M-3.3 0 Q0 0.8 3.3 0" fill="none" stroke="#000" stroke-width="1.23"/></g><g transform="translate(182.1 664.2) rotate(-34)"><ellipse rx="4.1" ry="3.3" fill="#fff" stroke="#000" stroke-width="0.95"/><path d="M-3.3 0 Q0 0.8 3.3 0" fill="none" stroke="#000" stroke-width="1.23"/></g><g transform="translate(189.1 663.6) rotate(5)"><ellipse rx="4.1" ry="3.3" fill="#fff" stroke="#000" stroke-width="0.95"/><path d="M-3.3 0 Q0 0.8 3.3 0" fill="none" stroke="#000" stroke-width="1.23"/></g><g transform="translate(196.7 664.1) rotate(-1)"><ellipse rx="4.1" ry="3.3" fill="#fff" stroke="#000" stroke-width="0.95"/><path d="M-3.3 0 Q0 0.8 3.3 0" fill="none" stroke="#000" stroke-width="1.23"/></g><g transform="translate(203.3 666.1) rotate(-8)"><ellipse rx="4.1" ry="3.3" fill="#fff" stroke="#000" stroke-width="0.95"/><path d="M-3.3 0 Q0 0.8 3.3 0" fill="none" stroke="#000" stroke-width="1.23"/></g><g transform="translate(210.1 668.8) rotate(-14)"><ellipse rx="4.1" ry="3.3" fill="#fff" stroke="#000" stroke-width="0.95"/><path d="M-3.3 0 Q0 0.8 3.3 0" fill="none" stroke="#000" stroke-width="1.23"/></g><g transform="translate(217.1 672.1) rotate(24)"><ellipse rx="4.1" ry="3.3" fill="#fff" stroke="#000" stroke-width="0.95"/><path d="M-3.3 0 Q0 0.8 3.3 0" fill="none" stroke="#000" stroke-width="1.23"/></g><g transform="translate(142.5 677.6) rotate(-15)"><ellipse rx="4.1" ry="3.3" fill="#fff" stroke="#000" stroke-width="0.95"/><path d="M-3.3 0 Q0 0.8 3.3 0" fill="none" stroke="#000" stroke-width="1.23"/></g><g transform="translate(150.6 676.5) rotate(-25)"><ellipse rx="4.1" ry="3.3" fill="#fff" stroke="#000" stroke-width="0.95"/><path d="M-3.3 0 Q0 0.8 3.3 0" fill="none" stroke="#000" stroke-width="1.23"/></g><g transform="translate(157.0 674.3) rotate(-0)"><ellipse rx="4.1" ry="3.3" fill="#fff" stroke="#000" stroke-width="0.95"/><path d="M-3.3 0 Q0 0.8 3.3 0" fill="none" stroke="#000" stroke-width="1.23"/></g><g transform="translate(163.4 672.2) rotate(6)"><ellipse rx="4.1" ry="3.3" fill="#fff" stroke="#000" stroke-width="0.95"/><path d="M-3.3 0 Q0 0.8 3.3 0" fill="none" stroke="#000" stroke-width="1.23"/></g><g transform="translate(170.4 671.2) rotate(-19)"><ellipse rx="4.1" ry="3.3" fill="#fff" stroke="#000" stroke-width="0.95"/><path d="M-3.3 0 Q0 0.8 3.3 0" fill="none" stroke="#000" stroke-width="1.23"/></g><g transform="translate(179.0 669.8) rotate(11)"><ellipse rx="4.1" ry="3.3" fill="#fff" stroke="#000" stroke-width="0.95"/><path d="M-3.3 0 Q0 0.8 3.3 0" fill="none" stroke="#000" stroke-width="1.23"/></g><g transform="translate(186.1 667.7) rotate(34)"><ellipse rx="4.1" ry="3.3" fill="#fff" stroke="#000" stroke-width="0.95"/><path d="M-3.3 0 Q0 0.8 3.3 0" fill="none" stroke="#000" stroke-width="1.23"/></g><g transform="translate(193.2 669.3) rotate(-32)"><ellipse rx="4.1" ry="3.3" fill="#fff" stroke="#000" stroke-width="0.95"/><path d="M-3.3 0 Q0 0.8 3.3 0" fill="none" stroke="#000" stroke-width="1.23"/></g><g transform="translate(199.4 670.3) rotate(10)"><ellipse rx="4.1" ry="3.3" fill="#fff" stroke="#000" stroke-width="0.95"/><path d="M-3.3 0 Q0 0.8 3.3 0" fill="none" stroke="#000" stroke-width="1.23"/></g><g transform="translate(207.6 672.7) rotate(-26)"><ellipse rx="4.1" ry="3.3" fill="#fff" stroke="#000" stroke-width="0.95"/><path d="M-3.3 0 Q0 0.8 3.3 0" fill="none" stroke="#000" stroke-width="1.23"/></g><g transform="translate(215.2 674.7) rotate(-25)"><ellipse rx="4.1" ry="3.3" fill="#fff" stroke="#000" stroke-width="0.95"/><path d="M-3.3 0 Q0 0.8 3.3 0" fill="none" stroke="#000" stroke-width="1.23"/></g><g transform="translate(221.3 677.5) rotate(-24)"><ellipse rx="4.1" ry="3.3" fill="#fff" stroke="#000" stroke-width="0.95"/><path d="M-3.3 0 Q0 0.8 3.3 0" fill="none" stroke="#000" stroke-width="1.23"/></g><g transform="translate(138.1 682.8) rotate(-27)"><ellipse rx="4.1" ry="3.3" fill="#fff" stroke="#000" stroke-width="0.95"/><path d="M-3.3 0 Q0 0.8 3.3 0" fill="none" stroke="#000" stroke-width="1.23"/></g><g transform="translate(145.3 681.7) rotate(-31)"><ellipse rx="4.1" ry="3.3" fill="#fff" stroke="#000" stroke-width="0.95"/><path d="M-3.3 0 Q0 0.8 3.3 0" fill="none" stroke="#000" stroke-width="1.23"/></g><g transform="translate(153.8 680.6) rotate(26)"><ellipse rx="4.1" ry="3.3" fill="#fff" stroke="#000" stroke-width="0.95"/><path d="M-3.3 0 Q0 0.8 3.3 0" fill="none" stroke="#000" stroke-width="1.23"/></g><g transform="translate(160.4 678.1) rotate(-13)"><ellipse rx="4.1" ry="3.3" fill="#fff" stroke="#000" stroke-width="0.95"/><path d="M-3.3 0 Q0 0.8 3.3 0" fill="none" stroke="#000" stroke-width="1.23"/></g><g transform="translate(167.7 676.9) rotate(31)"><ellipse rx="4.1" ry="3.3" fill="#fff" stroke="#000" stroke-width="0.95"/><path d="M-3.3 0 Q0 0.8 3.3 0" fill="none" stroke="#000" stroke-width="1.23"/></g><g transform="translate(174.0 674.9) rotate(14)"><ellipse rx="4.1" ry="3.3" fill="#fff" stroke="#000" stroke-width="0.95"/><path d="M-3.3 0 Q0 0.8 3.3 0" fill="none" stroke="#000" stroke-width="1.23"/></g><g transform="translate(182.3 673.4) rotate(0)"><ellipse rx="4.1" ry="3.3" fill="#fff" stroke="#000" stroke-width="0.95"/><path d="M-3.3 0 Q0 0.8 3.3 0" fill="none" stroke="#000" stroke-width="1.23"/></g><g transform="translate(189.3 674.2) rotate(8)"><ellipse rx="4.1" ry="3.3" fill="#fff" stroke="#000" stroke-width="0.95"/><path d="M-3.3 0 Q0 0.8 3.3 0" fill="none" stroke="#000" stroke-width="1.23"/></g><g transform="translate(196.5 673.8) rotate(-17)"><ellipse rx="4.1" ry="3.3" fill="#fff" stroke="#000" stroke-width="0.95"/><path d="M-3.3 0 Q0 0.8 3.3 0" fill="none" stroke="#000" stroke-width="1.23"/></g><g transform="translate(203.6 676.3) rotate(-26)"><ellipse rx="4.1" ry="3.3" fill="#fff" stroke="#000" stroke-width="0.95"/><path d="M-3.3 0 Q0 0.8 3.3 0" fill="none" stroke="#000" stroke-width="1.23"/></g><g transform="translate(210.5 678.2) rotate(17)"><ellipse rx="4.1" ry="3.3" fill="#fff" stroke="#000" stroke-width="0.95"/><path d="M-3.3 0 Q0 0.8 3.3 0" fill="none" stroke="#000" stroke-width="1.23"/></g><g transform="translate(218.4 681.5) rotate(11)"><ellipse rx="4.1" ry="3.3" fill="#fff" stroke="#000" stroke-width="0.95"/><path d="M-3.3 0 Q0 0.8 3.3 0" fill="none" stroke="#000" stroke-width="1.23"/></g></g><path d="M166.4 594 L166.4 644 M181.3 594.9 L181.3 648 M215.8 597 L215 637" fill="none" stroke="#000" stroke-width="1.14" stroke-linejoin="round" stroke-linecap="round"/><path d="M181.3 647 L181.3 652 L207 645 L207 640 Z" fill="#fff" fill="none" stroke="#000" stroke-width="0.80" stroke-linejoin="round" stroke-linecap="round"/><path d="M140.3 591.2 Q160 586 181.3 585 Q200 585.5 218 589 L219.8 596 Q219.8 600 214 600.5 Q190 601 166.7 602.2 Q145 601 139.1 598 Q138.5 594 140.3 591.2 Z" fill="#fff" fill="none" stroke="#000" stroke-width="1.14" stroke-linejoin="round" stroke-linecap="round"/><path d="M140.3 591.2 Q150 594 166.7 594.8 L181.3 594.9 Q205 593 218 589 M139.5 596 Q150 598.5 166.7 598.5 Q200 598 219.5 594.5 M166.7 594.8 L166.7 602 M181.3 594.9 L181.3 601.8" fill="none" stroke="#000" stroke-width="1.14" stroke-linejoin="round" stroke-linecap="round"/><path d="M217.3 633 L217.3 644 Q225 646 232.7 644 L232.7 633" fill="#fff" fill="none" stroke="#000" stroke-width="1.14" stroke-linejoin="round" stroke-linecap="round"/><ellipse cx="225" cy="633" rx="7.7" ry="2.2" fill="#fff" fill="none" stroke="#000" stroke-width="1.14" stroke-linejoin="round" stroke-linecap="round"/><path d="M217.3 638 Q225 640 232.7 638 M217.3 641 Q225 643 232.7 641" fill="none" stroke="#000" stroke-width="0.80" stroke-linejoin="round" stroke-linecap="round"/></g><path d="M220 968.4 L219.2 1015 Q219.2 1019.5 223 1020.5 Q242 1028 260 1020.5 Q263.9 1019.5 263.9 1015 L265.7 968.4" fill="#fff" fill="none" stroke="#000" stroke-width="1.05" stroke-linejoin="round" stroke-linecap="round"/><path d="M221 1009 L225 1008.3 L230 1009 L236 1008.2 L242 1009.3 L248 1008.5 L254 1009.3 L259 1008.6 L262.8 1009.2 L262.6 1016 Q262 1018.5 258 1019.5 Q242 1025 225 1019.5 Q221 1018.5 220.8 1016 Z" fill="#000"/><ellipse cx="242.8" cy="968.4" rx="22.9" ry="7.5" fill="#fff" fill="none" stroke="#000" stroke-width="1.05" stroke-linejoin="round" stroke-linecap="round"/><ellipse cx="242.8" cy="969.4" rx="20.5" ry="5.8" fill="none" fill="none" stroke="#000" stroke-width="1.05" stroke-linejoin="round" stroke-linecap="round"/><ellipse cx="245.2" cy="984.3" rx="5.5" ry="2.5" fill="none" fill="none" stroke="#000" stroke-width="1.05" stroke-linejoin="round" stroke-linecap="round"/><path d="M241.5 993.6 L249 993.6" fill="none" stroke="#000" stroke-width="1.05" stroke-linejoin="round" stroke-linecap="round"/><path d="M243.5 997.9 L249 997.9" fill="none" stroke="#000" stroke-width="1.05" stroke-linejoin="round" stroke-linecap="round"/><path d="M241.5 1002.0 L249 1002.0" fill="none" stroke="#000" stroke-width="1.05" stroke-linejoin="round" stroke-linecap="round"/><path d="M243.5 1006.1 L249 1006.1" fill="none" stroke="#000" stroke-width="1.05" stroke-linejoin="round" stroke-linecap="round"/><g transform="translate(258 951) rotate(18)"><ellipse cx="0" cy="-5" rx="23" ry="5" fill="#fff" fill="none" stroke="#000" stroke-width="1.05" stroke-linejoin="round" stroke-linecap="round"/><ellipse cx="0" cy="0" rx="22" ry="4.5" fill="#fff" fill="none" stroke="#000" stroke-width="1.05" stroke-linejoin="round" stroke-linecap="round"/><ellipse cx="0" cy="5" rx="23" ry="5" fill="#fff" fill="none" stroke="#000" stroke-width="1.05" stroke-linejoin="round" stroke-linecap="round"/><ellipse cx="0" cy="5.5" rx="20" ry="3.6" fill="none" fill="none" stroke="#000" stroke-width="1.05" stroke-linejoin="round" stroke-linecap="round"/></g><path d="M144.6 1162.2 L143.5 1256 Q143.5 1266 152 1269 Q189 1280 224 1269 Q230 1267 230.5 1256 L233.4 1162.2" fill="#fff" fill="none" stroke="#000" stroke-width="1.05" stroke-linejoin="round" stroke-linecap="round"/><path d="M146.5 1244 L152 1243.8 L160 1244.3 L168 1245 L174 1246.2 L180 1247.3 L186 1247.8 L192 1247.2 L200 1247 L208 1246.8 L216 1246.5 L222 1246.2 L227 1246.2 L227 1259 Q226 1264 220 1266.5 Q189 1276 156 1267 Q146.5 1264 146.5 1258 Z" fill="#000"/><ellipse cx="189.4" cy="1162.2" rx="44.4" ry="12.6" fill="#fff" fill="none" stroke="#000" stroke-width="1.05" stroke-linejoin="round" stroke-linecap="round"/><ellipse cx="189.4" cy="1164" rx="40" ry="10" fill="none" fill="none" stroke="#000" stroke-width="1.05" stroke-linejoin="round" stroke-linecap="round"/><path d="M183.5 1194.4 Q184 1190 190 1190 L200 1190 Q206 1190 206.5 1194.4 Q206 1198.8 200 1198.8 L190 1198.8 Q184 1198.8 183.5 1194.4 Z" fill="none" fill="none" stroke="#000" stroke-width="1.05" stroke-linejoin="round" stroke-linecap="round"/><path d="M188.0 1212.6 L201.0 1212.6" fill="none" stroke="#000" stroke-width="1.05" stroke-linejoin="round" stroke-linecap="round"/><path d="M191.0 1221.0 L199.0 1221.0" fill="none" stroke="#000" stroke-width="1.05" stroke-linejoin="round" stroke-linecap="round"/><path d="M188.0 1229.4 L201.0 1229.4" fill="none" stroke="#000" stroke-width="1.05" stroke-linejoin="round" stroke-linecap="round"/><path d="M191.0 1237.8 L199.0 1237.8" fill="none" stroke="#000" stroke-width="1.05" stroke-linejoin="round" stroke-linecap="round"/><path d="M188.0 1246.2 L201.0 1246.2" fill="none" stroke="#000" stroke-width="1.05" stroke-linejoin="round" stroke-linecap="round"/><path d="M114.1 1106.4 L157 1135 M113.5 1108.4 L156 1137.5" fill="none" stroke="#000" stroke-width="0.90" stroke-linejoin="round" stroke-linecap="round"/><path d="M157.2 1135.8 L151.5 1155 L173 1168.6 L187.8 1157.3 Z" fill="#fff" fill="none" stroke="#000" stroke-width="1.05" stroke-linejoin="round" stroke-linecap="round"/><path d="M157.2 1135.8 Q166 1130 176 1138 Q184 1145 187.8 1157.3 Z" fill="#000" stroke="#000" stroke-width="1"/><g transform="translate(228.6 1113.1) rotate(43)"><ellipse cx="1" cy="-8" rx="45" ry="7" fill="#fff" fill="none" stroke="#000" stroke-width="1.05" stroke-linejoin="round" stroke-linecap="round"/><ellipse cx="0" cy="-2.5" rx="43" ry="6.5" fill="#fff" fill="none" stroke="#000" stroke-width="1.05" stroke-linejoin="round" stroke-linecap="round"/><ellipse cx="-1" cy="4" rx="45.5" ry="9" fill="#fff" fill="none" stroke="#000" stroke-width="1.05" stroke-linejoin="round" stroke-linecap="round"/><ellipse cx="-1" cy="5.2" rx="42.5" ry="6.8" fill="none" fill="none" stroke="#000" stroke-width="1.05" stroke-linejoin="round" stroke-linecap="round"/></g><path d="M653.1 1244 Q652 1265 656 1280 Q657.5 1289 659 1290 Q673 1296 688 1290 Q689.5 1289 690 1280 Q694 1265 692.7 1244" fill="#fff" fill="none" stroke="#000" stroke-width="1.35" stroke-linejoin="round" stroke-linecap="round"/><path d="M653 1254.5 Q673 1262.5 693 1254.5 Q693.3 1268 688.3 1280.6 Q673 1285 657.7 1280.6 Q652.7 1268 653 1254.5 Z" fill="#000"/><ellipse cx="672.9" cy="1244" rx="19.8" ry="5" fill="#fff" fill="none" stroke="#000" stroke-width="1.40" stroke-linejoin="round" stroke-linecap="round"/><ellipse cx="672.8" cy="1246.3" rx="17" ry="3.2" fill="#000"/><path d="M674.4 1183.3 L676.5 1186.5" fill="none" stroke="#000" stroke-width="1.20" stroke-linejoin="round" stroke-linecap="round"/><path d="M678.3 1190.7 L679.3 1196.8" fill="none" stroke="#000" stroke-width="1.20" stroke-linejoin="round" stroke-linecap="round"/><path d="M677.0 1201.4 L672.8 1206.5" fill="none" stroke="#000" stroke-width="1.20" stroke-linejoin="round" stroke-linecap="round"/><path d="M683.0 1212.5 L681.1 1214.8" fill="none" stroke="#000" stroke-width="1.20" stroke-linejoin="round" stroke-linecap="round"/><path d="M679.3 1218.5 L679.7 1224.5" fill="none" stroke="#000" stroke-width="1.20" stroke-linejoin="round" stroke-linecap="round"/><path d="M681.3 1231.5 L680.0 1234.3" fill="none" stroke="#000" stroke-width="1.20" stroke-linejoin="round" stroke-linecap="round"/><path d="M665.6 1200.0 L662.6 1203.2" fill="none" stroke="#000" stroke-width="1.20" stroke-linejoin="round" stroke-linecap="round"/><path d="M660.6 1211.1 L662.1 1217.6" fill="none" stroke="#000" stroke-width="1.20" stroke-linejoin="round" stroke-linecap="round"/><path d="M664.4 1222.7 L666.3 1228.2" fill="none" stroke="#000" stroke-width="1.20" stroke-linejoin="round" stroke-linecap="round"/><path d="M666.8 1233.3 L665.6 1236.6" fill="none" stroke="#000" stroke-width="1.20" stroke-linejoin="round" stroke-linecap="round"/><path d="M670.5 1212.5 L671.1 1218.5" fill="none" stroke="#000" stroke-width="1.20" stroke-linejoin="round" stroke-linecap="round"/><path d="M672.3 1223.1 L673.7 1227.8" fill="none" stroke="#000" stroke-width="1.20" stroke-linejoin="round" stroke-linecap="round"/><path d="M673.7 1232.4 L672.6 1234.7" fill="none" stroke="#000" stroke-width="1.20" stroke-linejoin="round" stroke-linecap="round"/></svg>
</body></html>
